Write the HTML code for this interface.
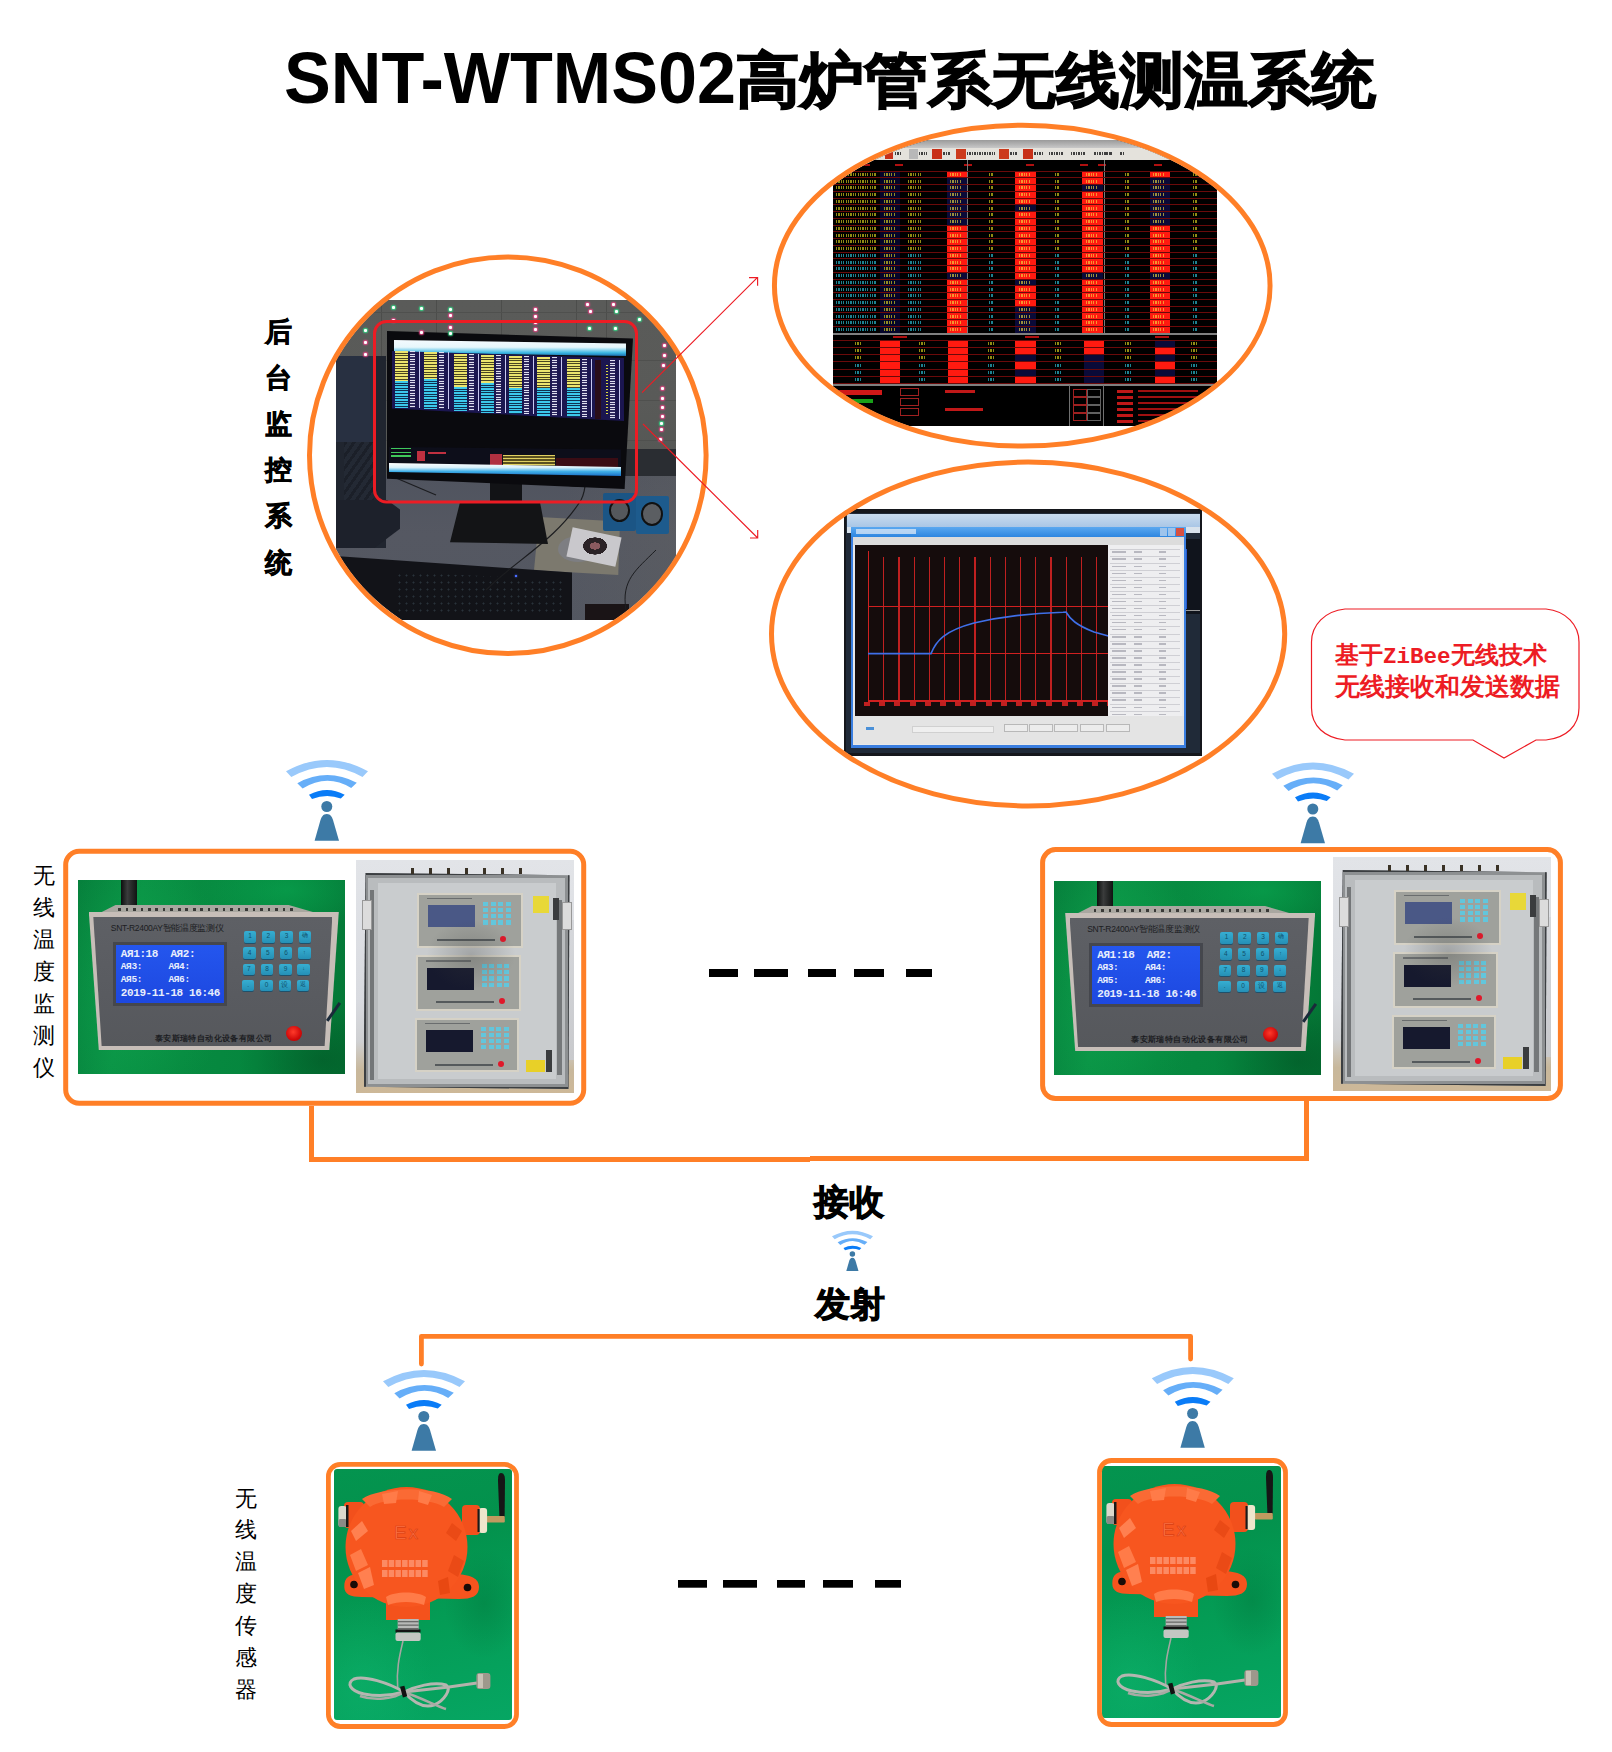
<!DOCTYPE html>
<html><head><meta charset="utf-8"><title>SNT-WTMS02</title>
<style>
html,body{margin:0;padding:0;background:#fff;}
body{width:1612px;height:1752px;position:relative;overflow:hidden;font-family:"Liberation Sans",sans-serif;}
.a{position:absolute;}
.vt{position:absolute;width:30px;text-align:center;}
svg{position:absolute;left:0;top:0;}
</style></head><body>

<div class="a" style="left:284px;top:41px;font-weight:bold;font-size:73px;line-height:1;white-space:nowrap;transform-origin:0 0;transform:scaleX(0.961)">SNT-WTMS02</div>
<div class="a" style="left:736px;top:50.2px;font-weight:bold;font-size:64px;line-height:1;white-space:nowrap;-webkit-text-stroke:1.6px #000;transform-origin:0 0;transform:scaleY(0.94)">高炉管系无线测温系统</div>
<div class="a" style="left:265px;top:318.5px;font-size:27px;line-height:1;font-weight:bold;-webkit-text-stroke:.7px #000;">后</div><div class="a" style="left:265px;top:364.7px;font-size:27px;line-height:1;font-weight:bold;-webkit-text-stroke:.7px #000;">台</div><div class="a" style="left:265px;top:410.9px;font-size:27px;line-height:1;font-weight:bold;-webkit-text-stroke:.7px #000;">监</div><div class="a" style="left:265px;top:457.1px;font-size:27px;line-height:1;font-weight:bold;-webkit-text-stroke:.7px #000;">控</div><div class="a" style="left:265px;top:503.3px;font-size:27px;line-height:1;font-weight:bold;-webkit-text-stroke:.7px #000;">系</div><div class="a" style="left:265px;top:549.5px;font-size:27px;line-height:1;font-weight:bold;-webkit-text-stroke:.7px #000;">统</div>
<div class="a" style="left:33px;top:864.5px;font-size:22px;line-height:1;">无</div><div class="a" style="left:33px;top:896.6px;font-size:22px;line-height:1;">线</div><div class="a" style="left:33px;top:928.7px;font-size:22px;line-height:1;">温</div><div class="a" style="left:33px;top:960.8px;font-size:22px;line-height:1;">度</div><div class="a" style="left:33px;top:992.9px;font-size:22px;line-height:1;">监</div><div class="a" style="left:33px;top:1025.0px;font-size:22px;line-height:1;">测</div><div class="a" style="left:33px;top:1057.1px;font-size:22px;line-height:1;">仪</div>
<div class="a" style="left:235px;top:1487.5px;font-size:22px;line-height:1;">无</div><div class="a" style="left:235px;top:1519.4px;font-size:22px;line-height:1;">线</div><div class="a" style="left:235px;top:1551.3px;font-size:22px;line-height:1;">温</div><div class="a" style="left:235px;top:1583.2px;font-size:22px;line-height:1;">度</div><div class="a" style="left:235px;top:1615.1px;font-size:22px;line-height:1;">传</div><div class="a" style="left:235px;top:1647.0px;font-size:22px;line-height:1;">感</div><div class="a" style="left:235px;top:1678.9px;font-size:22px;line-height:1;">器</div>
<div class="a" style="left:311.8px;top:259.2px;width:392px;height:392px;border-radius:50%;overflow:hidden">
<div class="a" id="p1" style="left:24.19999999999999px;top:40.80000000000001px;width:340px;height:320px;overflow:hidden;background:#5c5f63">
<div class="a" style="left:0;top:0;width:340px;height:200px;background:linear-gradient(180deg,#5a5b59 0%,#595a58 50%,#535552 100%)"></div><div class="a" style="left:45px;top:0;width:1px;height:150px;background:#4c4d4b"></div><div class="a" style="left:100px;top:0;width:1px;height:150px;background:#4c4d4b"></div><div class="a" style="left:165px;top:0;width:1px;height:150px;background:#4c4d4b"></div><div class="a" style="left:240px;top:0;width:1px;height:150px;background:#4c4d4b"></div><div class="a" style="left:270px;top:0;width:1px;height:150px;background:#4c4d4b"></div><div class="a" style="left:0;top:12px;width:340px;height:1px;background:#4f504e"></div><div class="a" style="left:0;top:60px;width:340px;height:1px;background:#4f504e"></div><div class="a" style="left:0;top:100px;width:340px;height:1px;background:#4f504e"></div><div class="a" style="left:0;top:140px;width:340px;height:1px;background:#4f504e"></div><div class="a" style="left:285px;top:149px;width:55px;height:27px;background:#2a2d32"></div><div class="a" style="left:0;top:176px;width:340px;height:144px;background:linear-gradient(180deg,#50545f 0%,#555862 40%,#535761 100%)"></div><div class="a" style="left:230px;top:176px;width:110px;height:144px;background:linear-gradient(90deg,rgba(100,100,98,0),rgba(100,100,98,.3))"></div><div class="a" style="left:0;top:56px;width:50px;height:192px;background:#20252f"></div><div class="a" style="left:0;top:56px;width:37px;height:86px;background:#283041"></div><div class="a" style="left:8px;top:142px;width:30px;height:90px;background:repeating-linear-gradient(125deg,#1a1e27 0 3px,#242a35 3px 7px);opacity:.8"></div><div class="a" style="left:0;top:200px;width:64px;height:48px;background:#1d212b;clip-path:polygon(0 0,80% 0,100% 20%,100% 60%,60% 100%,0 100%)"></div><div class="a" style="left:198px;top:217px;width:86px;height:58px;background:#7c796e;clip-path:polygon(6% 0,100% 8%,98% 100%,0 92%)"></div><div class="a" style="left:222px;top:236px;width:40px;height:26px;border-radius:50%;background:#7d7e82"></div><div class="a" style="left:233px;top:232px;width:50px;height:30px;background:#c9c8cc;transform:rotate(12deg)"></div><div class="a" style="left:245px;top:236px;width:28px;height:20px;border-radius:50%;background:radial-gradient(ellipse,#8a5a60 0 25%,#2a2226 26% 60%,#c9c8cc 61%)"></div><div class="a" style="left:0;top:256px;width:236px;height:64px;background:#121318;clip-path:polygon(0 0,100% 26%,100% 100%,0 100%)"></div><div class="a" style="left:60px;top:272px;width:170px;height:44px;background:radial-gradient(circle,rgba(70,90,100,.45) 0 0.8px,transparent 1.2px) 0 0/7px 7px;clip-path:polygon(0 0,100% 18%,100% 100%,0 100%)"></div><div class="a" style="left:179px;top:275px;width:2px;height:2px;background:#4a6cff;box-shadow:0 0 2px #4a6cff"></div><div class="a" style="left:249px;top:304px;width:44px;height:16px;background:#1a1416"></div><div class="a" style="left:267px;top:193px;width:33px;height:38px;background:#1b5585;border-radius:2px"></div><div class="a" style="left:300px;top:196px;width:33px;height:38px;background:#1d5b8d;border-radius:2px"></div><div class="a" style="left:273px;top:199px;width:17px;height:19px;border-radius:50%;background:#55585c;border:2px solid #111"></div><div class="a" style="left:305px;top:202px;width:18px;height:20px;border-radius:50%;background:#5b5e62;border:2.5px solid #111"></div><svg class="a" style="left:0;top:0" width="340" height="320"><path d="M150,290 C180,260 220,240 245,200 C250,190 250,180 248,170" stroke="#1c1d20" stroke-width="1.2" fill="none"/><path d="M320,250 C300,270 285,280 290,310" stroke="#1c1d20" stroke-width="1" fill="none"/><path d="M60,178 L100,195" stroke="#1c1d20" stroke-width="1.2" fill="none"/><path d="M220,182 C240,190 260,186 285,180" stroke="#1c1d20" stroke-width="1" fill="none"/></svg><div class="a" style="left:154px;top:182px;width:32px;height:26px;background:#121316"></div><div class="a" style="left:114px;top:203px;width:98px;height:41px;background:#131416;clip-path:polygon(10% 0,92% 0,100% 100%,0 96%)"></div><div class="a" style="left:51px;top:31px;width:246px;height:158px;background:#0a0a0e;clip-path:polygon(0 0,100% 4.7%,96.6% 100%,0 93.5%)"></div><div class="a" style="left:58px;top:40px;width:232px;height:16px;background:linear-gradient(180deg,#f4fafe 0%,#e6f6fb 45%,#39b6e2 80%,#1d6fb0 100%);clip-path:polygon(0 0,100% 22%,100% 100%,0 78%)"></div><div class="a" style="left:56px;top:51px;width:232px;height:70px;background:#1b1650;clip-path:polygon(0 0,100% 10%,100% 100%,0 82%)"></div><div class="a" style="left:59px;top:51.0px;width:13px;height:30px;background:repeating-linear-gradient(180deg,#ece46e 0 1.6px,#4a4520 1.6px 2.6px)"></div><div class="a" style="left:59px;top:81.0px;width:13px;height:27.0px;background:repeating-linear-gradient(180deg,#3cc8ec 0 1.6px,#0e3050 1.6px 2.6px)"></div><div class="a" style="left:74px;top:51.0px;width:5px;height:57.0px;background:repeating-linear-gradient(180deg,#e0e0f0 0 1px,#302a60 1px 2.6px)"></div><div class="a" style="left:83px;top:51.0px;width:1.2px;height:57.0px;background:#c8c8f0"></div><div class="a" style="left:88px;top:52.3px;width:13px;height:27px;background:repeating-linear-gradient(180deg,#ece46e 0 1.6px,#4a4520 1.6px 2.6px)"></div><div class="a" style="left:88px;top:79.3px;width:13px;height:30.2px;background:repeating-linear-gradient(180deg,#3cc8ec 0 1.6px,#0e3050 1.6px 2.6px)"></div><div class="a" style="left:103px;top:52.3px;width:5px;height:57.2px;background:repeating-linear-gradient(180deg,#e0e0f0 0 1px,#302a60 1px 2.6px)"></div><div class="a" style="left:112px;top:52.3px;width:1.2px;height:57.2px;background:#c8c8f0"></div><div class="a" style="left:118px;top:53.6px;width:13px;height:33px;background:repeating-linear-gradient(180deg,#ece46e 0 1.6px,#4a4520 1.6px 2.6px)"></div><div class="a" style="left:118px;top:86.6px;width:13px;height:24.5px;background:repeating-linear-gradient(180deg,#3cc8ec 0 1.6px,#0e3050 1.6px 2.6px)"></div><div class="a" style="left:133px;top:53.6px;width:5px;height:57.5px;background:repeating-linear-gradient(180deg,#e0e0f0 0 1px,#302a60 1px 2.6px)"></div><div class="a" style="left:142px;top:53.6px;width:1.2px;height:57.5px;background:#c8c8f0"></div><div class="a" style="left:145px;top:54.9px;width:13px;height:28px;background:repeating-linear-gradient(180deg,#ece46e 0 1.6px,#4a4520 1.6px 2.6px)"></div><div class="a" style="left:145px;top:82.9px;width:13px;height:29.8px;background:repeating-linear-gradient(180deg,#3cc8ec 0 1.6px,#0e3050 1.6px 2.6px)"></div><div class="a" style="left:160px;top:54.9px;width:5px;height:57.8px;background:repeating-linear-gradient(180deg,#e0e0f0 0 1px,#302a60 1px 2.6px)"></div><div class="a" style="left:169px;top:54.9px;width:1.2px;height:57.8px;background:#c8c8f0"></div><div class="a" style="left:173px;top:56.2px;width:13px;height:32px;background:repeating-linear-gradient(180deg,#ece46e 0 1.6px,#4a4520 1.6px 2.6px)"></div><div class="a" style="left:173px;top:88.2px;width:13px;height:26.0px;background:repeating-linear-gradient(180deg,#3cc8ec 0 1.6px,#0e3050 1.6px 2.6px)"></div><div class="a" style="left:188px;top:56.2px;width:5px;height:58.0px;background:repeating-linear-gradient(180deg,#e0e0f0 0 1px,#302a60 1px 2.6px)"></div><div class="a" style="left:197px;top:56.2px;width:1.2px;height:58.0px;background:#c8c8f0"></div><div class="a" style="left:201px;top:57.5px;width:13px;height:31px;background:repeating-linear-gradient(180deg,#ece46e 0 1.6px,#4a4520 1.6px 2.6px)"></div><div class="a" style="left:201px;top:88.5px;width:13px;height:27.2px;background:repeating-linear-gradient(180deg,#3cc8ec 0 1.6px,#0e3050 1.6px 2.6px)"></div><div class="a" style="left:216px;top:57.5px;width:5px;height:58.2px;background:repeating-linear-gradient(180deg,#e0e0f0 0 1px,#302a60 1px 2.6px)"></div><div class="a" style="left:225px;top:57.5px;width:1.2px;height:58.2px;background:#c8c8f0"></div><div class="a" style="left:231px;top:58.8px;width:13px;height:29px;background:repeating-linear-gradient(180deg,#ece46e 0 1.6px,#4a4520 1.6px 2.6px)"></div><div class="a" style="left:231px;top:87.8px;width:13px;height:29.5px;background:repeating-linear-gradient(180deg,#3cc8ec 0 1.6px,#0e3050 1.6px 2.6px)"></div><div class="a" style="left:246px;top:58.8px;width:5px;height:58.5px;background:repeating-linear-gradient(180deg,#e0e0f0 0 1px,#302a60 1px 2.6px)"></div><div class="a" style="left:255px;top:58.8px;width:1.2px;height:58.5px;background:#c8c8f0"></div><div class="a" style="left:259px;top:60.1px;width:6px;height:58.7px;background:#2a0e1a"></div><div class="a" style="left:270px;top:65.1px;width:2px;height:48.7px;background:repeating-linear-gradient(180deg,#d8d840 0 1px,transparent 1px 3px)"></div><div class="a" style="left:274px;top:60.1px;width:5px;height:58.7px;background:repeating-linear-gradient(180deg,#e0e0f0 0 1px,#302a60 1px 2.6px)"></div><div class="a" style="left:283px;top:60.1px;width:1.2px;height:58.7px;background:#c8c8f0"></div><div class="a" style="left:53px;top:147px;width:232px;height:22px;background:#0d0e1a;clip-path:polygon(0 0,100% 12%,100% 100%,0 88%)"></div><div class="a" style="left:55px;top:148px;width:20px;height:11px;background:repeating-linear-gradient(180deg,#40c85a 0 1.4px,#0c0d18 1.4px 3.6px)"></div><div class="a" style="left:81px;top:151px;width:8px;height:10px;background:#c03040"></div><div class="a" style="left:92px;top:152px;width:18px;height:2px;background:#c03040"></div><div class="a" style="left:154px;top:154px;width:12px;height:13px;background:#b03040"></div><div class="a" style="left:167px;top:155px;width:52px;height:13px;background:repeating-linear-gradient(180deg,#e0d060 0 1.5px,#5a5020 1.5px 3px)"></div><div class="a" style="left:220px;top:158px;width:62px;height:10px;background:#3a0c14"></div><div class="a" style="left:53px;top:163px;width:232px;height:13px;background:linear-gradient(180deg,#ffffff 0%,#d8f0fa 35%,#40b0e8 65%,#1a70c8 100%);clip-path:polygon(0 0,100% 30%,100% 100%,0 70%)"></div><div class="a" style="left:56px;top:6px;width:3px;height:3px;border-radius:1px;background:#fff;box-shadow:0 0 1.5px 1px #33dd88"></div><div class="a" style="left:84px;top:7px;width:3px;height:3px;border-radius:1px;background:#fff;box-shadow:0 0 1.5px 1px #33dd88"></div><div class="a" style="left:113px;top:8px;width:3px;height:3px;border-radius:1px;background:#fff;box-shadow:0 0 1.5px 1px #33dd88"></div><div class="a" style="left:113px;top:14px;width:3px;height:3px;border-radius:1px;background:#fff;box-shadow:0 0 1.5px 1px #ee4488"></div><div class="a" style="left:113px;top:26px;width:3px;height:3px;border-radius:1px;background:#fff;box-shadow:0 0 1.5px 1px #ee4488"></div><div class="a" style="left:113px;top:32px;width:3px;height:3px;border-radius:1px;background:#fff;box-shadow:0 0 1.5px 1px #33dd88"></div><div class="a" style="left:56px;top:19px;width:3px;height:3px;border-radius:1px;background:#fff;box-shadow:0 0 1.5px 1px #ee4488"></div><div class="a" style="left:84px;top:31px;width:3px;height:3px;border-radius:1px;background:#fff;box-shadow:0 0 1.5px 1px #ee4488"></div><div class="a" style="left:28px;top:29px;width:3px;height:3px;border-radius:1px;background:#fff;box-shadow:0 0 1.5px 1px #33dd88"></div><div class="a" style="left:28px;top:41px;width:3px;height:3px;border-radius:1px;background:#fff;box-shadow:0 0 1.5px 1px #ee4488"></div><div class="a" style="left:28px;top:53px;width:3px;height:3px;border-radius:1px;background:#fff;box-shadow:0 0 1.5px 1px #ee4488"></div><div class="a" style="left:250px;top:3px;width:3px;height:3px;border-radius:1px;background:#fff;box-shadow:0 0 1.5px 1px #ee4488"></div><div class="a" style="left:253px;top:10px;width:3px;height:3px;border-radius:1px;background:#fff;box-shadow:0 0 1.5px 1px #ee4488"></div><div class="a" style="left:276px;top:3px;width:3px;height:3px;border-radius:1px;background:#fff;box-shadow:0 0 1.5px 1px #ee4488"></div><div class="a" style="left:279px;top:10px;width:3px;height:3px;border-radius:1px;background:#fff;box-shadow:0 0 1.5px 1px #33dd88"></div><div class="a" style="left:252px;top:27px;width:3px;height:3px;border-radius:1px;background:#fff;box-shadow:0 0 1.5px 1px #33dd88"></div><div class="a" style="left:278px;top:27px;width:3px;height:3px;border-radius:1px;background:#fff;box-shadow:0 0 1.5px 1px #33dd88"></div><div class="a" style="left:302px;top:18px;width:3px;height:3px;border-radius:1px;background:#fff;box-shadow:0 0 1.5px 1px #33dd88"></div><div class="a" style="left:198px;top:8px;width:3px;height:3px;border-radius:1px;background:#fff;box-shadow:0 0 1.5px 1px #ee4488"></div><div class="a" style="left:198px;top:15px;width:3px;height:3px;border-radius:1px;background:#fff;box-shadow:0 0 1.5px 1px #ee4488"></div><div class="a" style="left:198px;top:21px;width:3px;height:3px;border-radius:1px;background:#fff;box-shadow:0 0 1.5px 1px #ee4488"></div><div class="a" style="left:198px;top:28px;width:3px;height:3px;border-radius:1px;background:#fff;box-shadow:0 0 1.5px 1px #ee4488"></div><div class="a" style="left:327px;top:44px;width:3px;height:3px;border-radius:1px;background:#fff;box-shadow:0 0 1.5px 1px #ee4488"></div><div class="a" style="left:327px;top:54px;width:3px;height:3px;border-radius:1px;background:#fff;box-shadow:0 0 1.5px 1px #ee4488"></div><div class="a" style="left:326px;top:64px;width:3px;height:3px;border-radius:1px;background:#fff;box-shadow:0 0 1.5px 1px #ee4488"></div><div class="a" style="left:325px;top:87px;width:3px;height:3px;border-radius:1px;background:#fff;box-shadow:0 0 1.5px 1px #ee4488"></div><div class="a" style="left:325px;top:97px;width:3px;height:3px;border-radius:1px;background:#fff;box-shadow:0 0 1.5px 1px #ee4488"></div><div class="a" style="left:325px;top:106px;width:3px;height:3px;border-radius:1px;background:#fff;box-shadow:0 0 1.5px 1px #ee4488"></div><div class="a" style="left:325px;top:115px;width:3px;height:3px;border-radius:1px;background:#fff;box-shadow:0 0 1.5px 1px #ee4488"></div><div class="a" style="left:324px;top:122px;width:3px;height:3px;border-radius:1px;background:#fff;box-shadow:0 0 1.5px 1px #33dd88"></div><div class="a" style="left:324px;top:128px;width:3px;height:3px;border-radius:1px;background:#fff;box-shadow:0 0 1.5px 1px #ee4488"></div><div class="a" style="left:323px;top:138px;width:3px;height:3px;border-radius:1px;background:#fff;box-shadow:0 0 1.5px 1px #ee4488"></div>
</div></div>
<div class="a" style="left:776.75px;top:127.5px;width:491.0px;height:316.4px;border-radius:50%;overflow:hidden">
<div class="a" style="left:56.25px;top:12.50px;width:384px;height:286px;overflow:hidden;background:#000">
<div class="a" style="left:0;top:0;width:384px;height:8px;background:linear-gradient(180deg,#9a9a9a,#c8c8c8)"></div>
<div class="a" style="left:0;top:8px;width:384px;height:12px;background:#e4e2dc"></div>
<div class="a" style="left:51.6px;top:8.5px;width:8.5px;height:10px;background:#c83018"></div>
<div class="a" style="left:75.8px;top:8.5px;width:9px;height:10px;background:#b8b8b8"></div>
<div class="a" style="left:99px;top:8.5px;width:10px;height:10px;background:#c83018"></div>
<div class="a" style="left:123px;top:8.5px;width:10px;height:10px;background:#cc3a1c"></div>
<div class="a" style="left:166px;top:8.5px;width:9.7px;height:10px;background:#cc3a1c"></div>
<div class="a" style="left:190px;top:8.5px;width:10px;height:10px;background:#c83018"></div>
<div class="a" style="left:62px;top:12px;width:7px;height:3px;background:repeating-linear-gradient(90deg,#404040 0 1.5px,transparent 1.5px 2.5px)"></div>
<div class="a" style="left:86px;top:12px;width:8px;height:3px;background:repeating-linear-gradient(90deg,#404040 0 1.5px,transparent 1.5px 2.5px)"></div>
<div class="a" style="left:110px;top:12px;width:8px;height:3px;background:repeating-linear-gradient(90deg,#404040 0 1.5px,transparent 1.5px 2.5px)"></div>
<div class="a" style="left:134px;top:12px;width:28px;height:3px;background:repeating-linear-gradient(90deg,#404040 0 1.5px,transparent 1.5px 2.5px)"></div>
<div class="a" style="left:177px;top:12px;width:7px;height:3px;background:repeating-linear-gradient(90deg,#404040 0 1.5px,transparent 1.5px 2.5px)"></div>
<div class="a" style="left:201px;top:12px;width:10px;height:3px;background:repeating-linear-gradient(90deg,#404040 0 1.5px,transparent 1.5px 2.5px)"></div>
<div class="a" style="left:216px;top:12px;width:15px;height:3px;background:repeating-linear-gradient(90deg,#404040 0 1.5px,transparent 1.5px 2.5px)"></div>
<div class="a" style="left:238px;top:12px;width:14.6px;height:3px;background:repeating-linear-gradient(90deg,#404040 0 1.5px,transparent 1.5px 2.5px)"></div>
<div class="a" style="left:261px;top:12px;width:18px;height:3px;background:repeating-linear-gradient(90deg,#404040 0 1.5px,transparent 1.5px 2.5px)"></div>
<div class="a" style="left:287px;top:12px;width:5px;height:3px;background:repeating-linear-gradient(90deg,#404040 0 1.5px,transparent 1.5px 2.5px)"></div>
<div class="a" style="left:0;top:20px;width:384px;height:11px;background:#000"></div><div class="a" style="left:29px;top:24px;width:8px;height:2px;background:#b01010"></div><div class="a" style="left:62px;top:24px;width:8px;height:2px;background:#b01010"></div><div class="a" style="left:131px;top:24px;width:8px;height:2px;background:#b01010"></div><div class="a" style="left:193px;top:24px;width:8px;height:2px;background:#b01010"></div><div class="a" style="left:247px;top:24px;width:8px;height:2px;background:#b01010"></div><div class="a" style="left:265px;top:24px;width:8px;height:2px;background:#b01010"></div><div class="a" style="left:321px;top:24px;width:8px;height:2px;background:#b01010"></div><div class="a" style="left:133.5px;top:20px;width:1.5px;height:173px;background:#7a7a7a"></div><div class="a" style="left:270.5px;top:20px;width:1.5px;height:173px;background:#7a7a7a"></div><div class="a" style="left:113.5px;top:31.00px;width:20px;height:6.75px;background:#ff1a10"></div><div class="a" style="left:113.5px;top:37.75px;width:20px;height:6.75px;background:#0a0a38"></div><div class="a" style="left:113.5px;top:44.50px;width:20px;height:6.75px;background:#0a0a38"></div><div class="a" style="left:113.5px;top:51.25px;width:20px;height:6.75px;background:#0a0a38"></div><div class="a" style="left:113.5px;top:58.00px;width:20px;height:6.75px;background:#0a0a38"></div><div class="a" style="left:113.5px;top:64.75px;width:20px;height:6.75px;background:#0a0a38"></div><div class="a" style="left:113.5px;top:71.50px;width:20px;height:6.75px;background:#0a0a38"></div><div class="a" style="left:113.5px;top:78.25px;width:20px;height:6.75px;background:#0a0a38"></div><div class="a" style="left:113.5px;top:85.00px;width:20px;height:6.75px;background:#ff1a10"></div><div class="a" style="left:113.5px;top:91.75px;width:20px;height:6.75px;background:#ff1a10"></div><div class="a" style="left:113.5px;top:98.50px;width:20px;height:6.75px;background:#ff1a10"></div><div class="a" style="left:113.5px;top:105.25px;width:20px;height:6.75px;background:#ff1a10"></div><div class="a" style="left:113.5px;top:112.00px;width:20px;height:6.75px;background:#ff1a10"></div><div class="a" style="left:113.5px;top:118.75px;width:20px;height:6.75px;background:#ff1a10"></div><div class="a" style="left:113.5px;top:125.50px;width:20px;height:6.75px;background:#ff1a10"></div><div class="a" style="left:113.5px;top:132.25px;width:20px;height:6.75px;background:#0a0a38"></div><div class="a" style="left:113.5px;top:139.00px;width:20px;height:6.75px;background:#ff1a10"></div><div class="a" style="left:113.5px;top:145.75px;width:20px;height:6.75px;background:#ff1a10"></div><div class="a" style="left:113.5px;top:152.50px;width:20px;height:6.75px;background:#ff1a10"></div><div class="a" style="left:113.5px;top:159.25px;width:20px;height:6.75px;background:#ff1a10"></div><div class="a" style="left:113.5px;top:166.00px;width:20px;height:6.75px;background:#ff1a10"></div><div class="a" style="left:113.5px;top:172.75px;width:20px;height:6.75px;background:#ff1a10"></div><div class="a" style="left:113.5px;top:179.50px;width:20px;height:6.75px;background:#ff1a10"></div><div class="a" style="left:113.5px;top:186.25px;width:20px;height:6.75px;background:#ff1a10"></div><div class="a" style="left:182px;top:31.00px;width:20.5px;height:6.75px;background:#ff1a10"></div><div class="a" style="left:182px;top:37.75px;width:20.5px;height:6.75px;background:#ff1a10"></div><div class="a" style="left:182px;top:44.50px;width:20.5px;height:6.75px;background:#ff1a10"></div><div class="a" style="left:182px;top:51.25px;width:20.5px;height:6.75px;background:#ff1a10"></div><div class="a" style="left:182px;top:58.00px;width:20.5px;height:6.75px;background:#ff1a10"></div><div class="a" style="left:182px;top:64.75px;width:20.5px;height:6.75px;background:#0a0a38"></div><div class="a" style="left:182px;top:71.50px;width:20.5px;height:6.75px;background:#ff1a10"></div><div class="a" style="left:182px;top:78.25px;width:20.5px;height:6.75px;background:#ff1a10"></div><div class="a" style="left:182px;top:85.00px;width:20.5px;height:6.75px;background:#ff1a10"></div><div class="a" style="left:182px;top:91.75px;width:20.5px;height:6.75px;background:#ff1a10"></div><div class="a" style="left:182px;top:98.50px;width:20.5px;height:6.75px;background:#ff1a10"></div><div class="a" style="left:182px;top:105.25px;width:20.5px;height:6.75px;background:#ff1a10"></div><div class="a" style="left:182px;top:112.00px;width:20.5px;height:6.75px;background:#ff1a10"></div><div class="a" style="left:182px;top:118.75px;width:20.5px;height:6.75px;background:#ff1a10"></div><div class="a" style="left:182px;top:125.50px;width:20.5px;height:6.75px;background:#ff1a10"></div><div class="a" style="left:182px;top:132.25px;width:20.5px;height:6.75px;background:#ff1a10"></div><div class="a" style="left:182px;top:139.00px;width:20.5px;height:6.75px;background:#0a0a38"></div><div class="a" style="left:182px;top:145.75px;width:20.5px;height:6.75px;background:#ff1a10"></div><div class="a" style="left:182px;top:152.50px;width:20.5px;height:6.75px;background:#ff1a10"></div><div class="a" style="left:182px;top:159.25px;width:20.5px;height:6.75px;background:#ff1a10"></div><div class="a" style="left:182px;top:166.00px;width:20.5px;height:6.75px;background:#0a0a38"></div><div class="a" style="left:182px;top:172.75px;width:20.5px;height:6.75px;background:#0a0a38"></div><div class="a" style="left:182px;top:179.50px;width:20.5px;height:6.75px;background:#0a0a38"></div><div class="a" style="left:182px;top:186.25px;width:20.5px;height:6.75px;background:#0a0a38"></div><div class="a" style="left:249px;top:31.00px;width:20.5px;height:6.75px;background:#ff1a10"></div><div class="a" style="left:249px;top:37.75px;width:20.5px;height:6.75px;background:#ff1a10"></div><div class="a" style="left:249px;top:44.50px;width:20.5px;height:6.75px;background:#0a0a38"></div><div class="a" style="left:249px;top:51.25px;width:20.5px;height:6.75px;background:#ff1a10"></div><div class="a" style="left:249px;top:58.00px;width:20.5px;height:6.75px;background:#ff1a10"></div><div class="a" style="left:249px;top:64.75px;width:20.5px;height:6.75px;background:#ff1a10"></div><div class="a" style="left:249px;top:71.50px;width:20.5px;height:6.75px;background:#ff1a10"></div><div class="a" style="left:249px;top:78.25px;width:20.5px;height:6.75px;background:#ff1a10"></div><div class="a" style="left:249px;top:85.00px;width:20.5px;height:6.75px;background:#ff1a10"></div><div class="a" style="left:249px;top:91.75px;width:20.5px;height:6.75px;background:#ff1a10"></div><div class="a" style="left:249px;top:98.50px;width:20.5px;height:6.75px;background:#ff1a10"></div><div class="a" style="left:249px;top:105.25px;width:20.5px;height:6.75px;background:#ff1a10"></div><div class="a" style="left:249px;top:112.00px;width:20.5px;height:6.75px;background:#ff1a10"></div><div class="a" style="left:249px;top:118.75px;width:20.5px;height:6.75px;background:#ff1a10"></div><div class="a" style="left:249px;top:125.50px;width:20.5px;height:6.75px;background:#ff1a10"></div><div class="a" style="left:249px;top:132.25px;width:20.5px;height:6.75px;background:#0a0a38"></div><div class="a" style="left:249px;top:139.00px;width:20.5px;height:6.75px;background:#ff1a10"></div><div class="a" style="left:249px;top:145.75px;width:20.5px;height:6.75px;background:#ff1a10"></div><div class="a" style="left:249px;top:152.50px;width:20.5px;height:6.75px;background:#ff1a10"></div><div class="a" style="left:249px;top:159.25px;width:20.5px;height:6.75px;background:#ff1a10"></div><div class="a" style="left:249px;top:166.00px;width:20.5px;height:6.75px;background:#ff1a10"></div><div class="a" style="left:249px;top:172.75px;width:20.5px;height:6.75px;background:#ff1a10"></div><div class="a" style="left:249px;top:179.50px;width:20.5px;height:6.75px;background:#ff1a10"></div><div class="a" style="left:249px;top:186.25px;width:20.5px;height:6.75px;background:#ff1a10"></div><div class="a" style="left:316.5px;top:31.00px;width:20px;height:6.75px;background:#ff1a10"></div><div class="a" style="left:316.5px;top:37.75px;width:20px;height:6.75px;background:#0a0a38"></div><div class="a" style="left:316.5px;top:44.50px;width:20px;height:6.75px;background:#0a0a38"></div><div class="a" style="left:316.5px;top:51.25px;width:20px;height:6.75px;background:#0a0a38"></div><div class="a" style="left:316.5px;top:58.00px;width:20px;height:6.75px;background:#0a0a38"></div><div class="a" style="left:316.5px;top:64.75px;width:20px;height:6.75px;background:#0a0a38"></div><div class="a" style="left:316.5px;top:71.50px;width:20px;height:6.75px;background:#0a0a38"></div><div class="a" style="left:316.5px;top:78.25px;width:20px;height:6.75px;background:#0a0a38"></div><div class="a" style="left:316.5px;top:85.00px;width:20px;height:6.75px;background:#ff1a10"></div><div class="a" style="left:316.5px;top:91.75px;width:20px;height:6.75px;background:#ff1a10"></div><div class="a" style="left:316.5px;top:98.50px;width:20px;height:6.75px;background:#ff1a10"></div><div class="a" style="left:316.5px;top:105.25px;width:20px;height:6.75px;background:#ff1a10"></div><div class="a" style="left:316.5px;top:112.00px;width:20px;height:6.75px;background:#ff1a10"></div><div class="a" style="left:316.5px;top:118.75px;width:20px;height:6.75px;background:#ff1a10"></div><div class="a" style="left:316.5px;top:125.50px;width:20px;height:6.75px;background:#ff1a10"></div><div class="a" style="left:316.5px;top:132.25px;width:20px;height:6.75px;background:#0a0a38"></div><div class="a" style="left:316.5px;top:139.00px;width:20px;height:6.75px;background:#ff1a10"></div><div class="a" style="left:316.5px;top:145.75px;width:20px;height:6.75px;background:#ff1a10"></div><div class="a" style="left:316.5px;top:152.50px;width:20px;height:6.75px;background:#ff1a10"></div><div class="a" style="left:316.5px;top:159.25px;width:20px;height:6.75px;background:#ff1a10"></div><div class="a" style="left:316.5px;top:166.00px;width:20px;height:6.75px;background:#ff1a10"></div><div class="a" style="left:316.5px;top:172.75px;width:20px;height:6.75px;background:#ff1a10"></div><div class="a" style="left:316.5px;top:179.50px;width:20px;height:6.75px;background:#ff1a10"></div><div class="a" style="left:316.5px;top:186.25px;width:20px;height:6.75px;background:#ff1a10"></div><div class="a" style="left:47px;top:31px;width:19.5px;height:162.0px;background:#05052a"></div><div class="a" style="left:3px;top:32.80px;width:40px;height:3px;background:repeating-linear-gradient(90deg,#e8e020 0 1.2px,transparent 1.2px 2.4px);opacity:.62"></div><div class="a" style="left:3px;top:39.55px;width:40px;height:3px;background:repeating-linear-gradient(90deg,#e8e020 0 1.2px,transparent 1.2px 2.4px);opacity:.62"></div><div class="a" style="left:3px;top:46.30px;width:40px;height:3px;background:repeating-linear-gradient(90deg,#e8e020 0 1.2px,transparent 1.2px 2.4px);opacity:.62"></div><div class="a" style="left:3px;top:53.05px;width:40px;height:3px;background:repeating-linear-gradient(90deg,#e8e020 0 1.2px,transparent 1.2px 2.4px);opacity:.62"></div><div class="a" style="left:3px;top:59.80px;width:40px;height:3px;background:repeating-linear-gradient(90deg,#e8e020 0 1.2px,transparent 1.2px 2.4px);opacity:.62"></div><div class="a" style="left:3px;top:66.55px;width:40px;height:3px;background:repeating-linear-gradient(90deg,#e8e020 0 1.2px,transparent 1.2px 2.4px);opacity:.62"></div><div class="a" style="left:3px;top:73.30px;width:40px;height:3px;background:repeating-linear-gradient(90deg,#e8e020 0 1.2px,transparent 1.2px 2.4px);opacity:.62"></div><div class="a" style="left:3px;top:80.05px;width:40px;height:3px;background:repeating-linear-gradient(90deg,#e8e020 0 1.2px,transparent 1.2px 2.4px);opacity:.62"></div><div class="a" style="left:3px;top:86.80px;width:40px;height:3px;background:repeating-linear-gradient(90deg,#e8e020 0 1.2px,transparent 1.2px 2.4px);opacity:.62"></div><div class="a" style="left:3px;top:93.55px;width:40px;height:3px;background:repeating-linear-gradient(90deg,#e8e020 0 1.2px,transparent 1.2px 2.4px);opacity:.62"></div><div class="a" style="left:3px;top:100.30px;width:40px;height:3px;background:repeating-linear-gradient(90deg,#e8e020 0 1.2px,transparent 1.2px 2.4px);opacity:.62"></div><div class="a" style="left:3px;top:107.05px;width:40px;height:3px;background:repeating-linear-gradient(90deg,#e8e020 0 1.2px,transparent 1.2px 2.4px);opacity:.62"></div><div class="a" style="left:3px;top:113.80px;width:40px;height:3px;background:repeating-linear-gradient(90deg,#30d0e8 0 1.2px,transparent 1.2px 2.4px);opacity:.62"></div><div class="a" style="left:3px;top:120.55px;width:40px;height:3px;background:repeating-linear-gradient(90deg,#30d0e8 0 1.2px,transparent 1.2px 2.4px);opacity:.62"></div><div class="a" style="left:3px;top:127.30px;width:40px;height:3px;background:repeating-linear-gradient(90deg,#30d0e8 0 1.2px,transparent 1.2px 2.4px);opacity:.62"></div><div class="a" style="left:3px;top:134.05px;width:40px;height:3px;background:repeating-linear-gradient(90deg,#30d0e8 0 1.2px,transparent 1.2px 2.4px);opacity:.62"></div><div class="a" style="left:3px;top:140.80px;width:40px;height:3px;background:repeating-linear-gradient(90deg,#30d0e8 0 1.2px,transparent 1.2px 2.4px);opacity:.62"></div><div class="a" style="left:3px;top:147.55px;width:40px;height:3px;background:repeating-linear-gradient(90deg,#30d0e8 0 1.2px,transparent 1.2px 2.4px);opacity:.62"></div><div class="a" style="left:3px;top:154.30px;width:40px;height:3px;background:repeating-linear-gradient(90deg,#30d0e8 0 1.2px,transparent 1.2px 2.4px);opacity:.62"></div><div class="a" style="left:3px;top:161.05px;width:40px;height:3px;background:repeating-linear-gradient(90deg,#30d0e8 0 1.2px,transparent 1.2px 2.4px);opacity:.62"></div><div class="a" style="left:3px;top:167.80px;width:40px;height:3px;background:repeating-linear-gradient(90deg,#30d0e8 0 1.2px,transparent 1.2px 2.4px);opacity:.62"></div><div class="a" style="left:3px;top:174.55px;width:40px;height:3px;background:repeating-linear-gradient(90deg,#30d0e8 0 1.2px,transparent 1.2px 2.4px);opacity:.62"></div><div class="a" style="left:3px;top:181.30px;width:40px;height:3px;background:repeating-linear-gradient(90deg,#30d0e8 0 1.2px,transparent 1.2px 2.4px);opacity:.62"></div><div class="a" style="left:3px;top:188.05px;width:40px;height:3px;background:repeating-linear-gradient(90deg,#30d0e8 0 1.2px,transparent 1.2px 2.4px);opacity:.62"></div><div class="a" style="left:51px;top:32.80px;width:12px;height:3px;background:repeating-linear-gradient(90deg,#e8e020 0 1.2px,transparent 1.2px 2.4px);opacity:.62"></div><div class="a" style="left:51px;top:39.55px;width:12px;height:3px;background:repeating-linear-gradient(90deg,#e8e020 0 1.2px,transparent 1.2px 2.4px);opacity:.62"></div><div class="a" style="left:51px;top:46.30px;width:12px;height:3px;background:repeating-linear-gradient(90deg,#e8e020 0 1.2px,transparent 1.2px 2.4px);opacity:.62"></div><div class="a" style="left:51px;top:53.05px;width:12px;height:3px;background:repeating-linear-gradient(90deg,#e8e020 0 1.2px,transparent 1.2px 2.4px);opacity:.62"></div><div class="a" style="left:51px;top:59.80px;width:12px;height:3px;background:repeating-linear-gradient(90deg,#e8e020 0 1.2px,transparent 1.2px 2.4px);opacity:.62"></div><div class="a" style="left:51px;top:66.55px;width:12px;height:3px;background:repeating-linear-gradient(90deg,#e8e020 0 1.2px,transparent 1.2px 2.4px);opacity:.62"></div><div class="a" style="left:51px;top:73.30px;width:12px;height:3px;background:repeating-linear-gradient(90deg,#e8e020 0 1.2px,transparent 1.2px 2.4px);opacity:.62"></div><div class="a" style="left:51px;top:80.05px;width:12px;height:3px;background:repeating-linear-gradient(90deg,#e8e020 0 1.2px,transparent 1.2px 2.4px);opacity:.62"></div><div class="a" style="left:51px;top:86.80px;width:12px;height:3px;background:repeating-linear-gradient(90deg,#e8e020 0 1.2px,transparent 1.2px 2.4px);opacity:.62"></div><div class="a" style="left:51px;top:93.55px;width:12px;height:3px;background:repeating-linear-gradient(90deg,#e8e020 0 1.2px,transparent 1.2px 2.4px);opacity:.62"></div><div class="a" style="left:51px;top:100.30px;width:12px;height:3px;background:repeating-linear-gradient(90deg,#e8e020 0 1.2px,transparent 1.2px 2.4px);opacity:.62"></div><div class="a" style="left:51px;top:107.05px;width:12px;height:3px;background:repeating-linear-gradient(90deg,#e8e020 0 1.2px,transparent 1.2px 2.4px);opacity:.62"></div><div class="a" style="left:51px;top:113.80px;width:12px;height:3px;background:repeating-linear-gradient(90deg,#e8e020 0 1.2px,transparent 1.2px 2.4px);opacity:.62"></div><div class="a" style="left:51px;top:120.55px;width:12px;height:3px;background:repeating-linear-gradient(90deg,#e8e020 0 1.2px,transparent 1.2px 2.4px);opacity:.62"></div><div class="a" style="left:51px;top:127.30px;width:12px;height:3px;background:repeating-linear-gradient(90deg,#e8e020 0 1.2px,transparent 1.2px 2.4px);opacity:.62"></div><div class="a" style="left:51px;top:134.05px;width:12px;height:3px;background:repeating-linear-gradient(90deg,#e8e020 0 1.2px,transparent 1.2px 2.4px);opacity:.62"></div><div class="a" style="left:51px;top:140.80px;width:12px;height:3px;background:repeating-linear-gradient(90deg,#e8e020 0 1.2px,transparent 1.2px 2.4px);opacity:.62"></div><div class="a" style="left:51px;top:147.55px;width:12px;height:3px;background:repeating-linear-gradient(90deg,#e8e020 0 1.2px,transparent 1.2px 2.4px);opacity:.62"></div><div class="a" style="left:51px;top:154.30px;width:12px;height:3px;background:repeating-linear-gradient(90deg,#e8e020 0 1.2px,transparent 1.2px 2.4px);opacity:.62"></div><div class="a" style="left:51px;top:161.05px;width:12px;height:3px;background:repeating-linear-gradient(90deg,#e8e020 0 1.2px,transparent 1.2px 2.4px);opacity:.62"></div><div class="a" style="left:51px;top:167.80px;width:12px;height:3px;background:repeating-linear-gradient(90deg,#e8e020 0 1.2px,transparent 1.2px 2.4px);opacity:.62"></div><div class="a" style="left:51px;top:174.55px;width:12px;height:3px;background:repeating-linear-gradient(90deg,#e8e020 0 1.2px,transparent 1.2px 2.4px);opacity:.62"></div><div class="a" style="left:51px;top:181.30px;width:12px;height:3px;background:repeating-linear-gradient(90deg,#e8e020 0 1.2px,transparent 1.2px 2.4px);opacity:.62"></div><div class="a" style="left:51px;top:188.05px;width:12px;height:3px;background:repeating-linear-gradient(90deg,#e8e020 0 1.2px,transparent 1.2px 2.4px);opacity:.62"></div><div class="a" style="left:75px;top:32.80px;width:14px;height:3px;background:repeating-linear-gradient(90deg,#e8e020 0 1.2px,transparent 1.2px 2.4px);opacity:.62"></div><div class="a" style="left:75px;top:39.55px;width:14px;height:3px;background:repeating-linear-gradient(90deg,#e8e020 0 1.2px,transparent 1.2px 2.4px);opacity:.62"></div><div class="a" style="left:75px;top:46.30px;width:14px;height:3px;background:repeating-linear-gradient(90deg,#e8e020 0 1.2px,transparent 1.2px 2.4px);opacity:.62"></div><div class="a" style="left:75px;top:53.05px;width:14px;height:3px;background:repeating-linear-gradient(90deg,#e8e020 0 1.2px,transparent 1.2px 2.4px);opacity:.62"></div><div class="a" style="left:75px;top:59.80px;width:14px;height:3px;background:repeating-linear-gradient(90deg,#e8e020 0 1.2px,transparent 1.2px 2.4px);opacity:.62"></div><div class="a" style="left:75px;top:66.55px;width:14px;height:3px;background:repeating-linear-gradient(90deg,#e8e020 0 1.2px,transparent 1.2px 2.4px);opacity:.62"></div><div class="a" style="left:75px;top:73.30px;width:14px;height:3px;background:repeating-linear-gradient(90deg,#e8e020 0 1.2px,transparent 1.2px 2.4px);opacity:.62"></div><div class="a" style="left:75px;top:80.05px;width:14px;height:3px;background:repeating-linear-gradient(90deg,#e8e020 0 1.2px,transparent 1.2px 2.4px);opacity:.62"></div><div class="a" style="left:75px;top:86.80px;width:14px;height:3px;background:repeating-linear-gradient(90deg,#e8e020 0 1.2px,transparent 1.2px 2.4px);opacity:.62"></div><div class="a" style="left:75px;top:93.55px;width:14px;height:3px;background:repeating-linear-gradient(90deg,#e8e020 0 1.2px,transparent 1.2px 2.4px);opacity:.62"></div><div class="a" style="left:75px;top:100.30px;width:14px;height:3px;background:repeating-linear-gradient(90deg,#e8e020 0 1.2px,transparent 1.2px 2.4px);opacity:.62"></div><div class="a" style="left:75px;top:107.05px;width:14px;height:3px;background:repeating-linear-gradient(90deg,#e8e020 0 1.2px,transparent 1.2px 2.4px);opacity:.62"></div><div class="a" style="left:75px;top:113.80px;width:14px;height:3px;background:repeating-linear-gradient(90deg,#30d0e8 0 1.2px,transparent 1.2px 2.4px);opacity:.62"></div><div class="a" style="left:75px;top:120.55px;width:14px;height:3px;background:repeating-linear-gradient(90deg,#30d0e8 0 1.2px,transparent 1.2px 2.4px);opacity:.62"></div><div class="a" style="left:75px;top:127.30px;width:14px;height:3px;background:repeating-linear-gradient(90deg,#30d0e8 0 1.2px,transparent 1.2px 2.4px);opacity:.62"></div><div class="a" style="left:75px;top:134.05px;width:14px;height:3px;background:repeating-linear-gradient(90deg,#30d0e8 0 1.2px,transparent 1.2px 2.4px);opacity:.62"></div><div class="a" style="left:75px;top:140.80px;width:14px;height:3px;background:repeating-linear-gradient(90deg,#30d0e8 0 1.2px,transparent 1.2px 2.4px);opacity:.62"></div><div class="a" style="left:75px;top:147.55px;width:14px;height:3px;background:repeating-linear-gradient(90deg,#30d0e8 0 1.2px,transparent 1.2px 2.4px);opacity:.62"></div><div class="a" style="left:75px;top:154.30px;width:14px;height:3px;background:repeating-linear-gradient(90deg,#30d0e8 0 1.2px,transparent 1.2px 2.4px);opacity:.62"></div><div class="a" style="left:75px;top:161.05px;width:14px;height:3px;background:repeating-linear-gradient(90deg,#30d0e8 0 1.2px,transparent 1.2px 2.4px);opacity:.62"></div><div class="a" style="left:75px;top:167.80px;width:14px;height:3px;background:repeating-linear-gradient(90deg,#30d0e8 0 1.2px,transparent 1.2px 2.4px);opacity:.62"></div><div class="a" style="left:75px;top:174.55px;width:14px;height:3px;background:repeating-linear-gradient(90deg,#30d0e8 0 1.2px,transparent 1.2px 2.4px);opacity:.62"></div><div class="a" style="left:75px;top:181.30px;width:14px;height:3px;background:repeating-linear-gradient(90deg,#30d0e8 0 1.2px,transparent 1.2px 2.4px);opacity:.62"></div><div class="a" style="left:75px;top:188.05px;width:14px;height:3px;background:repeating-linear-gradient(90deg,#30d0e8 0 1.2px,transparent 1.2px 2.4px);opacity:.62"></div><div class="a" style="left:117px;top:32.80px;width:12px;height:3px;background:repeating-linear-gradient(90deg,#f0e040 0 1.2px,transparent 1.2px 2.4px);opacity:.62"></div><div class="a" style="left:117px;top:39.55px;width:12px;height:3px;background:repeating-linear-gradient(90deg,#f0e040 0 1.2px,transparent 1.2px 2.4px);opacity:.62"></div><div class="a" style="left:117px;top:46.30px;width:12px;height:3px;background:repeating-linear-gradient(90deg,#f0e040 0 1.2px,transparent 1.2px 2.4px);opacity:.62"></div><div class="a" style="left:117px;top:53.05px;width:12px;height:3px;background:repeating-linear-gradient(90deg,#f0e040 0 1.2px,transparent 1.2px 2.4px);opacity:.62"></div><div class="a" style="left:117px;top:59.80px;width:12px;height:3px;background:repeating-linear-gradient(90deg,#f0e040 0 1.2px,transparent 1.2px 2.4px);opacity:.62"></div><div class="a" style="left:117px;top:66.55px;width:12px;height:3px;background:repeating-linear-gradient(90deg,#f0e040 0 1.2px,transparent 1.2px 2.4px);opacity:.62"></div><div class="a" style="left:117px;top:73.30px;width:12px;height:3px;background:repeating-linear-gradient(90deg,#f0e040 0 1.2px,transparent 1.2px 2.4px);opacity:.62"></div><div class="a" style="left:117px;top:80.05px;width:12px;height:3px;background:repeating-linear-gradient(90deg,#f0e040 0 1.2px,transparent 1.2px 2.4px);opacity:.62"></div><div class="a" style="left:117px;top:86.80px;width:12px;height:3px;background:repeating-linear-gradient(90deg,#f0e040 0 1.2px,transparent 1.2px 2.4px);opacity:.62"></div><div class="a" style="left:117px;top:93.55px;width:12px;height:3px;background:repeating-linear-gradient(90deg,#f0e040 0 1.2px,transparent 1.2px 2.4px);opacity:.62"></div><div class="a" style="left:117px;top:100.30px;width:12px;height:3px;background:repeating-linear-gradient(90deg,#f0e040 0 1.2px,transparent 1.2px 2.4px);opacity:.62"></div><div class="a" style="left:117px;top:107.05px;width:12px;height:3px;background:repeating-linear-gradient(90deg,#f0e040 0 1.2px,transparent 1.2px 2.4px);opacity:.62"></div><div class="a" style="left:117px;top:113.80px;width:12px;height:3px;background:repeating-linear-gradient(90deg,#f0e040 0 1.2px,transparent 1.2px 2.4px);opacity:.62"></div><div class="a" style="left:117px;top:120.55px;width:12px;height:3px;background:repeating-linear-gradient(90deg,#f0e040 0 1.2px,transparent 1.2px 2.4px);opacity:.62"></div><div class="a" style="left:117px;top:127.30px;width:12px;height:3px;background:repeating-linear-gradient(90deg,#f0e040 0 1.2px,transparent 1.2px 2.4px);opacity:.62"></div><div class="a" style="left:117px;top:134.05px;width:12px;height:3px;background:repeating-linear-gradient(90deg,#f0e040 0 1.2px,transparent 1.2px 2.4px);opacity:.62"></div><div class="a" style="left:117px;top:140.80px;width:12px;height:3px;background:repeating-linear-gradient(90deg,#f0e040 0 1.2px,transparent 1.2px 2.4px);opacity:.62"></div><div class="a" style="left:117px;top:147.55px;width:12px;height:3px;background:repeating-linear-gradient(90deg,#f0e040 0 1.2px,transparent 1.2px 2.4px);opacity:.62"></div><div class="a" style="left:117px;top:154.30px;width:12px;height:3px;background:repeating-linear-gradient(90deg,#f0e040 0 1.2px,transparent 1.2px 2.4px);opacity:.62"></div><div class="a" style="left:117px;top:161.05px;width:12px;height:3px;background:repeating-linear-gradient(90deg,#f0e040 0 1.2px,transparent 1.2px 2.4px);opacity:.62"></div><div class="a" style="left:117px;top:167.80px;width:12px;height:3px;background:repeating-linear-gradient(90deg,#f0e040 0 1.2px,transparent 1.2px 2.4px);opacity:.62"></div><div class="a" style="left:117px;top:174.55px;width:12px;height:3px;background:repeating-linear-gradient(90deg,#f0e040 0 1.2px,transparent 1.2px 2.4px);opacity:.62"></div><div class="a" style="left:117px;top:181.30px;width:12px;height:3px;background:repeating-linear-gradient(90deg,#f0e040 0 1.2px,transparent 1.2px 2.4px);opacity:.62"></div><div class="a" style="left:117px;top:188.05px;width:12px;height:3px;background:repeating-linear-gradient(90deg,#f0e040 0 1.2px,transparent 1.2px 2.4px);opacity:.62"></div><div class="a" style="left:156px;top:32.80px;width:4px;height:3px;background:repeating-linear-gradient(90deg,#e8e020 0 1.2px,transparent 1.2px 2.4px);opacity:.62"></div><div class="a" style="left:156px;top:39.55px;width:4px;height:3px;background:repeating-linear-gradient(90deg,#e8e020 0 1.2px,transparent 1.2px 2.4px);opacity:.62"></div><div class="a" style="left:156px;top:46.30px;width:4px;height:3px;background:repeating-linear-gradient(90deg,#e8e020 0 1.2px,transparent 1.2px 2.4px);opacity:.62"></div><div class="a" style="left:156px;top:53.05px;width:4px;height:3px;background:repeating-linear-gradient(90deg,#e8e020 0 1.2px,transparent 1.2px 2.4px);opacity:.62"></div><div class="a" style="left:156px;top:59.80px;width:4px;height:3px;background:repeating-linear-gradient(90deg,#e8e020 0 1.2px,transparent 1.2px 2.4px);opacity:.62"></div><div class="a" style="left:156px;top:66.55px;width:4px;height:3px;background:repeating-linear-gradient(90deg,#e8e020 0 1.2px,transparent 1.2px 2.4px);opacity:.62"></div><div class="a" style="left:156px;top:73.30px;width:4px;height:3px;background:repeating-linear-gradient(90deg,#e8e020 0 1.2px,transparent 1.2px 2.4px);opacity:.62"></div><div class="a" style="left:156px;top:80.05px;width:4px;height:3px;background:repeating-linear-gradient(90deg,#e8e020 0 1.2px,transparent 1.2px 2.4px);opacity:.62"></div><div class="a" style="left:156px;top:86.80px;width:4px;height:3px;background:repeating-linear-gradient(90deg,#e8e020 0 1.2px,transparent 1.2px 2.4px);opacity:.62"></div><div class="a" style="left:156px;top:93.55px;width:4px;height:3px;background:repeating-linear-gradient(90deg,#e8e020 0 1.2px,transparent 1.2px 2.4px);opacity:.62"></div><div class="a" style="left:156px;top:100.30px;width:4px;height:3px;background:repeating-linear-gradient(90deg,#e8e020 0 1.2px,transparent 1.2px 2.4px);opacity:.62"></div><div class="a" style="left:156px;top:107.05px;width:4px;height:3px;background:repeating-linear-gradient(90deg,#e8e020 0 1.2px,transparent 1.2px 2.4px);opacity:.62"></div><div class="a" style="left:156px;top:113.80px;width:4px;height:3px;background:repeating-linear-gradient(90deg,#30d0e8 0 1.2px,transparent 1.2px 2.4px);opacity:.62"></div><div class="a" style="left:156px;top:120.55px;width:4px;height:3px;background:repeating-linear-gradient(90deg,#30d0e8 0 1.2px,transparent 1.2px 2.4px);opacity:.62"></div><div class="a" style="left:156px;top:127.30px;width:4px;height:3px;background:repeating-linear-gradient(90deg,#30d0e8 0 1.2px,transparent 1.2px 2.4px);opacity:.62"></div><div class="a" style="left:156px;top:134.05px;width:4px;height:3px;background:repeating-linear-gradient(90deg,#30d0e8 0 1.2px,transparent 1.2px 2.4px);opacity:.62"></div><div class="a" style="left:156px;top:140.80px;width:4px;height:3px;background:repeating-linear-gradient(90deg,#30d0e8 0 1.2px,transparent 1.2px 2.4px);opacity:.62"></div><div class="a" style="left:156px;top:147.55px;width:4px;height:3px;background:repeating-linear-gradient(90deg,#30d0e8 0 1.2px,transparent 1.2px 2.4px);opacity:.62"></div><div class="a" style="left:156px;top:154.30px;width:4px;height:3px;background:repeating-linear-gradient(90deg,#30d0e8 0 1.2px,transparent 1.2px 2.4px);opacity:.62"></div><div class="a" style="left:156px;top:161.05px;width:4px;height:3px;background:repeating-linear-gradient(90deg,#30d0e8 0 1.2px,transparent 1.2px 2.4px);opacity:.62"></div><div class="a" style="left:156px;top:167.80px;width:4px;height:3px;background:repeating-linear-gradient(90deg,#30d0e8 0 1.2px,transparent 1.2px 2.4px);opacity:.62"></div><div class="a" style="left:156px;top:174.55px;width:4px;height:3px;background:repeating-linear-gradient(90deg,#30d0e8 0 1.2px,transparent 1.2px 2.4px);opacity:.62"></div><div class="a" style="left:156px;top:181.30px;width:4px;height:3px;background:repeating-linear-gradient(90deg,#30d0e8 0 1.2px,transparent 1.2px 2.4px);opacity:.62"></div><div class="a" style="left:156px;top:188.05px;width:4px;height:3px;background:repeating-linear-gradient(90deg,#30d0e8 0 1.2px,transparent 1.2px 2.4px);opacity:.62"></div><div class="a" style="left:186px;top:32.80px;width:12px;height:3px;background:repeating-linear-gradient(90deg,#f0e040 0 1.2px,transparent 1.2px 2.4px);opacity:.62"></div><div class="a" style="left:186px;top:39.55px;width:12px;height:3px;background:repeating-linear-gradient(90deg,#f0e040 0 1.2px,transparent 1.2px 2.4px);opacity:.62"></div><div class="a" style="left:186px;top:46.30px;width:12px;height:3px;background:repeating-linear-gradient(90deg,#f0e040 0 1.2px,transparent 1.2px 2.4px);opacity:.62"></div><div class="a" style="left:186px;top:53.05px;width:12px;height:3px;background:repeating-linear-gradient(90deg,#f0e040 0 1.2px,transparent 1.2px 2.4px);opacity:.62"></div><div class="a" style="left:186px;top:59.80px;width:12px;height:3px;background:repeating-linear-gradient(90deg,#f0e040 0 1.2px,transparent 1.2px 2.4px);opacity:.62"></div><div class="a" style="left:186px;top:66.55px;width:12px;height:3px;background:repeating-linear-gradient(90deg,#f0e040 0 1.2px,transparent 1.2px 2.4px);opacity:.62"></div><div class="a" style="left:186px;top:73.30px;width:12px;height:3px;background:repeating-linear-gradient(90deg,#f0e040 0 1.2px,transparent 1.2px 2.4px);opacity:.62"></div><div class="a" style="left:186px;top:80.05px;width:12px;height:3px;background:repeating-linear-gradient(90deg,#f0e040 0 1.2px,transparent 1.2px 2.4px);opacity:.62"></div><div class="a" style="left:186px;top:86.80px;width:12px;height:3px;background:repeating-linear-gradient(90deg,#f0e040 0 1.2px,transparent 1.2px 2.4px);opacity:.62"></div><div class="a" style="left:186px;top:93.55px;width:12px;height:3px;background:repeating-linear-gradient(90deg,#f0e040 0 1.2px,transparent 1.2px 2.4px);opacity:.62"></div><div class="a" style="left:186px;top:100.30px;width:12px;height:3px;background:repeating-linear-gradient(90deg,#f0e040 0 1.2px,transparent 1.2px 2.4px);opacity:.62"></div><div class="a" style="left:186px;top:107.05px;width:12px;height:3px;background:repeating-linear-gradient(90deg,#f0e040 0 1.2px,transparent 1.2px 2.4px);opacity:.62"></div><div class="a" style="left:186px;top:113.80px;width:12px;height:3px;background:repeating-linear-gradient(90deg,#f0e040 0 1.2px,transparent 1.2px 2.4px);opacity:.62"></div><div class="a" style="left:186px;top:120.55px;width:12px;height:3px;background:repeating-linear-gradient(90deg,#f0e040 0 1.2px,transparent 1.2px 2.4px);opacity:.62"></div><div class="a" style="left:186px;top:127.30px;width:12px;height:3px;background:repeating-linear-gradient(90deg,#f0e040 0 1.2px,transparent 1.2px 2.4px);opacity:.62"></div><div class="a" style="left:186px;top:134.05px;width:12px;height:3px;background:repeating-linear-gradient(90deg,#f0e040 0 1.2px,transparent 1.2px 2.4px);opacity:.62"></div><div class="a" style="left:186px;top:140.80px;width:12px;height:3px;background:repeating-linear-gradient(90deg,#f0e040 0 1.2px,transparent 1.2px 2.4px);opacity:.62"></div><div class="a" style="left:186px;top:147.55px;width:12px;height:3px;background:repeating-linear-gradient(90deg,#f0e040 0 1.2px,transparent 1.2px 2.4px);opacity:.62"></div><div class="a" style="left:186px;top:154.30px;width:12px;height:3px;background:repeating-linear-gradient(90deg,#f0e040 0 1.2px,transparent 1.2px 2.4px);opacity:.62"></div><div class="a" style="left:186px;top:161.05px;width:12px;height:3px;background:repeating-linear-gradient(90deg,#f0e040 0 1.2px,transparent 1.2px 2.4px);opacity:.62"></div><div class="a" style="left:186px;top:167.80px;width:12px;height:3px;background:repeating-linear-gradient(90deg,#f0e040 0 1.2px,transparent 1.2px 2.4px);opacity:.62"></div><div class="a" style="left:186px;top:174.55px;width:12px;height:3px;background:repeating-linear-gradient(90deg,#f0e040 0 1.2px,transparent 1.2px 2.4px);opacity:.62"></div><div class="a" style="left:186px;top:181.30px;width:12px;height:3px;background:repeating-linear-gradient(90deg,#f0e040 0 1.2px,transparent 1.2px 2.4px);opacity:.62"></div><div class="a" style="left:186px;top:188.05px;width:12px;height:3px;background:repeating-linear-gradient(90deg,#f0e040 0 1.2px,transparent 1.2px 2.4px);opacity:.62"></div><div class="a" style="left:222px;top:32.80px;width:4px;height:3px;background:repeating-linear-gradient(90deg,#e8e020 0 1.2px,transparent 1.2px 2.4px);opacity:.62"></div><div class="a" style="left:222px;top:39.55px;width:4px;height:3px;background:repeating-linear-gradient(90deg,#e8e020 0 1.2px,transparent 1.2px 2.4px);opacity:.62"></div><div class="a" style="left:222px;top:46.30px;width:4px;height:3px;background:repeating-linear-gradient(90deg,#e8e020 0 1.2px,transparent 1.2px 2.4px);opacity:.62"></div><div class="a" style="left:222px;top:53.05px;width:4px;height:3px;background:repeating-linear-gradient(90deg,#e8e020 0 1.2px,transparent 1.2px 2.4px);opacity:.62"></div><div class="a" style="left:222px;top:59.80px;width:4px;height:3px;background:repeating-linear-gradient(90deg,#e8e020 0 1.2px,transparent 1.2px 2.4px);opacity:.62"></div><div class="a" style="left:222px;top:66.55px;width:4px;height:3px;background:repeating-linear-gradient(90deg,#e8e020 0 1.2px,transparent 1.2px 2.4px);opacity:.62"></div><div class="a" style="left:222px;top:73.30px;width:4px;height:3px;background:repeating-linear-gradient(90deg,#e8e020 0 1.2px,transparent 1.2px 2.4px);opacity:.62"></div><div class="a" style="left:222px;top:80.05px;width:4px;height:3px;background:repeating-linear-gradient(90deg,#e8e020 0 1.2px,transparent 1.2px 2.4px);opacity:.62"></div><div class="a" style="left:222px;top:86.80px;width:4px;height:3px;background:repeating-linear-gradient(90deg,#e8e020 0 1.2px,transparent 1.2px 2.4px);opacity:.62"></div><div class="a" style="left:222px;top:93.55px;width:4px;height:3px;background:repeating-linear-gradient(90deg,#e8e020 0 1.2px,transparent 1.2px 2.4px);opacity:.62"></div><div class="a" style="left:222px;top:100.30px;width:4px;height:3px;background:repeating-linear-gradient(90deg,#e8e020 0 1.2px,transparent 1.2px 2.4px);opacity:.62"></div><div class="a" style="left:222px;top:107.05px;width:4px;height:3px;background:repeating-linear-gradient(90deg,#e8e020 0 1.2px,transparent 1.2px 2.4px);opacity:.62"></div><div class="a" style="left:222px;top:113.80px;width:4px;height:3px;background:repeating-linear-gradient(90deg,#30d0e8 0 1.2px,transparent 1.2px 2.4px);opacity:.62"></div><div class="a" style="left:222px;top:120.55px;width:4px;height:3px;background:repeating-linear-gradient(90deg,#30d0e8 0 1.2px,transparent 1.2px 2.4px);opacity:.62"></div><div class="a" style="left:222px;top:127.30px;width:4px;height:3px;background:repeating-linear-gradient(90deg,#30d0e8 0 1.2px,transparent 1.2px 2.4px);opacity:.62"></div><div class="a" style="left:222px;top:134.05px;width:4px;height:3px;background:repeating-linear-gradient(90deg,#30d0e8 0 1.2px,transparent 1.2px 2.4px);opacity:.62"></div><div class="a" style="left:222px;top:140.80px;width:4px;height:3px;background:repeating-linear-gradient(90deg,#30d0e8 0 1.2px,transparent 1.2px 2.4px);opacity:.62"></div><div class="a" style="left:222px;top:147.55px;width:4px;height:3px;background:repeating-linear-gradient(90deg,#30d0e8 0 1.2px,transparent 1.2px 2.4px);opacity:.62"></div><div class="a" style="left:222px;top:154.30px;width:4px;height:3px;background:repeating-linear-gradient(90deg,#30d0e8 0 1.2px,transparent 1.2px 2.4px);opacity:.62"></div><div class="a" style="left:222px;top:161.05px;width:4px;height:3px;background:repeating-linear-gradient(90deg,#30d0e8 0 1.2px,transparent 1.2px 2.4px);opacity:.62"></div><div class="a" style="left:222px;top:167.80px;width:4px;height:3px;background:repeating-linear-gradient(90deg,#30d0e8 0 1.2px,transparent 1.2px 2.4px);opacity:.62"></div><div class="a" style="left:222px;top:174.55px;width:4px;height:3px;background:repeating-linear-gradient(90deg,#30d0e8 0 1.2px,transparent 1.2px 2.4px);opacity:.62"></div><div class="a" style="left:222px;top:181.30px;width:4px;height:3px;background:repeating-linear-gradient(90deg,#30d0e8 0 1.2px,transparent 1.2px 2.4px);opacity:.62"></div><div class="a" style="left:222px;top:188.05px;width:4px;height:3px;background:repeating-linear-gradient(90deg,#30d0e8 0 1.2px,transparent 1.2px 2.4px);opacity:.62"></div><div class="a" style="left:253px;top:32.80px;width:12px;height:3px;background:repeating-linear-gradient(90deg,#f0e040 0 1.2px,transparent 1.2px 2.4px);opacity:.62"></div><div class="a" style="left:253px;top:39.55px;width:12px;height:3px;background:repeating-linear-gradient(90deg,#f0e040 0 1.2px,transparent 1.2px 2.4px);opacity:.62"></div><div class="a" style="left:253px;top:46.30px;width:12px;height:3px;background:repeating-linear-gradient(90deg,#f0e040 0 1.2px,transparent 1.2px 2.4px);opacity:.62"></div><div class="a" style="left:253px;top:53.05px;width:12px;height:3px;background:repeating-linear-gradient(90deg,#f0e040 0 1.2px,transparent 1.2px 2.4px);opacity:.62"></div><div class="a" style="left:253px;top:59.80px;width:12px;height:3px;background:repeating-linear-gradient(90deg,#f0e040 0 1.2px,transparent 1.2px 2.4px);opacity:.62"></div><div class="a" style="left:253px;top:66.55px;width:12px;height:3px;background:repeating-linear-gradient(90deg,#f0e040 0 1.2px,transparent 1.2px 2.4px);opacity:.62"></div><div class="a" style="left:253px;top:73.30px;width:12px;height:3px;background:repeating-linear-gradient(90deg,#f0e040 0 1.2px,transparent 1.2px 2.4px);opacity:.62"></div><div class="a" style="left:253px;top:80.05px;width:12px;height:3px;background:repeating-linear-gradient(90deg,#f0e040 0 1.2px,transparent 1.2px 2.4px);opacity:.62"></div><div class="a" style="left:253px;top:86.80px;width:12px;height:3px;background:repeating-linear-gradient(90deg,#f0e040 0 1.2px,transparent 1.2px 2.4px);opacity:.62"></div><div class="a" style="left:253px;top:93.55px;width:12px;height:3px;background:repeating-linear-gradient(90deg,#f0e040 0 1.2px,transparent 1.2px 2.4px);opacity:.62"></div><div class="a" style="left:253px;top:100.30px;width:12px;height:3px;background:repeating-linear-gradient(90deg,#f0e040 0 1.2px,transparent 1.2px 2.4px);opacity:.62"></div><div class="a" style="left:253px;top:107.05px;width:12px;height:3px;background:repeating-linear-gradient(90deg,#f0e040 0 1.2px,transparent 1.2px 2.4px);opacity:.62"></div><div class="a" style="left:253px;top:113.80px;width:12px;height:3px;background:repeating-linear-gradient(90deg,#f0e040 0 1.2px,transparent 1.2px 2.4px);opacity:.62"></div><div class="a" style="left:253px;top:120.55px;width:12px;height:3px;background:repeating-linear-gradient(90deg,#f0e040 0 1.2px,transparent 1.2px 2.4px);opacity:.62"></div><div class="a" style="left:253px;top:127.30px;width:12px;height:3px;background:repeating-linear-gradient(90deg,#f0e040 0 1.2px,transparent 1.2px 2.4px);opacity:.62"></div><div class="a" style="left:253px;top:134.05px;width:12px;height:3px;background:repeating-linear-gradient(90deg,#f0e040 0 1.2px,transparent 1.2px 2.4px);opacity:.62"></div><div class="a" style="left:253px;top:140.80px;width:12px;height:3px;background:repeating-linear-gradient(90deg,#f0e040 0 1.2px,transparent 1.2px 2.4px);opacity:.62"></div><div class="a" style="left:253px;top:147.55px;width:12px;height:3px;background:repeating-linear-gradient(90deg,#f0e040 0 1.2px,transparent 1.2px 2.4px);opacity:.62"></div><div class="a" style="left:253px;top:154.30px;width:12px;height:3px;background:repeating-linear-gradient(90deg,#f0e040 0 1.2px,transparent 1.2px 2.4px);opacity:.62"></div><div class="a" style="left:253px;top:161.05px;width:12px;height:3px;background:repeating-linear-gradient(90deg,#f0e040 0 1.2px,transparent 1.2px 2.4px);opacity:.62"></div><div class="a" style="left:253px;top:167.80px;width:12px;height:3px;background:repeating-linear-gradient(90deg,#f0e040 0 1.2px,transparent 1.2px 2.4px);opacity:.62"></div><div class="a" style="left:253px;top:174.55px;width:12px;height:3px;background:repeating-linear-gradient(90deg,#f0e040 0 1.2px,transparent 1.2px 2.4px);opacity:.62"></div><div class="a" style="left:253px;top:181.30px;width:12px;height:3px;background:repeating-linear-gradient(90deg,#f0e040 0 1.2px,transparent 1.2px 2.4px);opacity:.62"></div><div class="a" style="left:253px;top:188.05px;width:12px;height:3px;background:repeating-linear-gradient(90deg,#f0e040 0 1.2px,transparent 1.2px 2.4px);opacity:.62"></div><div class="a" style="left:292px;top:32.80px;width:4px;height:3px;background:repeating-linear-gradient(90deg,#e8e020 0 1.2px,transparent 1.2px 2.4px);opacity:.62"></div><div class="a" style="left:292px;top:39.55px;width:4px;height:3px;background:repeating-linear-gradient(90deg,#e8e020 0 1.2px,transparent 1.2px 2.4px);opacity:.62"></div><div class="a" style="left:292px;top:46.30px;width:4px;height:3px;background:repeating-linear-gradient(90deg,#e8e020 0 1.2px,transparent 1.2px 2.4px);opacity:.62"></div><div class="a" style="left:292px;top:53.05px;width:4px;height:3px;background:repeating-linear-gradient(90deg,#e8e020 0 1.2px,transparent 1.2px 2.4px);opacity:.62"></div><div class="a" style="left:292px;top:59.80px;width:4px;height:3px;background:repeating-linear-gradient(90deg,#e8e020 0 1.2px,transparent 1.2px 2.4px);opacity:.62"></div><div class="a" style="left:292px;top:66.55px;width:4px;height:3px;background:repeating-linear-gradient(90deg,#e8e020 0 1.2px,transparent 1.2px 2.4px);opacity:.62"></div><div class="a" style="left:292px;top:73.30px;width:4px;height:3px;background:repeating-linear-gradient(90deg,#e8e020 0 1.2px,transparent 1.2px 2.4px);opacity:.62"></div><div class="a" style="left:292px;top:80.05px;width:4px;height:3px;background:repeating-linear-gradient(90deg,#e8e020 0 1.2px,transparent 1.2px 2.4px);opacity:.62"></div><div class="a" style="left:292px;top:86.80px;width:4px;height:3px;background:repeating-linear-gradient(90deg,#e8e020 0 1.2px,transparent 1.2px 2.4px);opacity:.62"></div><div class="a" style="left:292px;top:93.55px;width:4px;height:3px;background:repeating-linear-gradient(90deg,#e8e020 0 1.2px,transparent 1.2px 2.4px);opacity:.62"></div><div class="a" style="left:292px;top:100.30px;width:4px;height:3px;background:repeating-linear-gradient(90deg,#e8e020 0 1.2px,transparent 1.2px 2.4px);opacity:.62"></div><div class="a" style="left:292px;top:107.05px;width:4px;height:3px;background:repeating-linear-gradient(90deg,#e8e020 0 1.2px,transparent 1.2px 2.4px);opacity:.62"></div><div class="a" style="left:292px;top:113.80px;width:4px;height:3px;background:repeating-linear-gradient(90deg,#30d0e8 0 1.2px,transparent 1.2px 2.4px);opacity:.62"></div><div class="a" style="left:292px;top:120.55px;width:4px;height:3px;background:repeating-linear-gradient(90deg,#30d0e8 0 1.2px,transparent 1.2px 2.4px);opacity:.62"></div><div class="a" style="left:292px;top:127.30px;width:4px;height:3px;background:repeating-linear-gradient(90deg,#30d0e8 0 1.2px,transparent 1.2px 2.4px);opacity:.62"></div><div class="a" style="left:292px;top:134.05px;width:4px;height:3px;background:repeating-linear-gradient(90deg,#30d0e8 0 1.2px,transparent 1.2px 2.4px);opacity:.62"></div><div class="a" style="left:292px;top:140.80px;width:4px;height:3px;background:repeating-linear-gradient(90deg,#30d0e8 0 1.2px,transparent 1.2px 2.4px);opacity:.62"></div><div class="a" style="left:292px;top:147.55px;width:4px;height:3px;background:repeating-linear-gradient(90deg,#30d0e8 0 1.2px,transparent 1.2px 2.4px);opacity:.62"></div><div class="a" style="left:292px;top:154.30px;width:4px;height:3px;background:repeating-linear-gradient(90deg,#30d0e8 0 1.2px,transparent 1.2px 2.4px);opacity:.62"></div><div class="a" style="left:292px;top:161.05px;width:4px;height:3px;background:repeating-linear-gradient(90deg,#30d0e8 0 1.2px,transparent 1.2px 2.4px);opacity:.62"></div><div class="a" style="left:292px;top:167.80px;width:4px;height:3px;background:repeating-linear-gradient(90deg,#30d0e8 0 1.2px,transparent 1.2px 2.4px);opacity:.62"></div><div class="a" style="left:292px;top:174.55px;width:4px;height:3px;background:repeating-linear-gradient(90deg,#30d0e8 0 1.2px,transparent 1.2px 2.4px);opacity:.62"></div><div class="a" style="left:292px;top:181.30px;width:4px;height:3px;background:repeating-linear-gradient(90deg,#30d0e8 0 1.2px,transparent 1.2px 2.4px);opacity:.62"></div><div class="a" style="left:292px;top:188.05px;width:4px;height:3px;background:repeating-linear-gradient(90deg,#30d0e8 0 1.2px,transparent 1.2px 2.4px);opacity:.62"></div><div class="a" style="left:320px;top:32.80px;width:12px;height:3px;background:repeating-linear-gradient(90deg,#f0e040 0 1.2px,transparent 1.2px 2.4px);opacity:.62"></div><div class="a" style="left:320px;top:39.55px;width:12px;height:3px;background:repeating-linear-gradient(90deg,#f0e040 0 1.2px,transparent 1.2px 2.4px);opacity:.62"></div><div class="a" style="left:320px;top:46.30px;width:12px;height:3px;background:repeating-linear-gradient(90deg,#f0e040 0 1.2px,transparent 1.2px 2.4px);opacity:.62"></div><div class="a" style="left:320px;top:53.05px;width:12px;height:3px;background:repeating-linear-gradient(90deg,#f0e040 0 1.2px,transparent 1.2px 2.4px);opacity:.62"></div><div class="a" style="left:320px;top:59.80px;width:12px;height:3px;background:repeating-linear-gradient(90deg,#f0e040 0 1.2px,transparent 1.2px 2.4px);opacity:.62"></div><div class="a" style="left:320px;top:66.55px;width:12px;height:3px;background:repeating-linear-gradient(90deg,#f0e040 0 1.2px,transparent 1.2px 2.4px);opacity:.62"></div><div class="a" style="left:320px;top:73.30px;width:12px;height:3px;background:repeating-linear-gradient(90deg,#f0e040 0 1.2px,transparent 1.2px 2.4px);opacity:.62"></div><div class="a" style="left:320px;top:80.05px;width:12px;height:3px;background:repeating-linear-gradient(90deg,#f0e040 0 1.2px,transparent 1.2px 2.4px);opacity:.62"></div><div class="a" style="left:320px;top:86.80px;width:12px;height:3px;background:repeating-linear-gradient(90deg,#f0e040 0 1.2px,transparent 1.2px 2.4px);opacity:.62"></div><div class="a" style="left:320px;top:93.55px;width:12px;height:3px;background:repeating-linear-gradient(90deg,#f0e040 0 1.2px,transparent 1.2px 2.4px);opacity:.62"></div><div class="a" style="left:320px;top:100.30px;width:12px;height:3px;background:repeating-linear-gradient(90deg,#f0e040 0 1.2px,transparent 1.2px 2.4px);opacity:.62"></div><div class="a" style="left:320px;top:107.05px;width:12px;height:3px;background:repeating-linear-gradient(90deg,#f0e040 0 1.2px,transparent 1.2px 2.4px);opacity:.62"></div><div class="a" style="left:320px;top:113.80px;width:12px;height:3px;background:repeating-linear-gradient(90deg,#f0e040 0 1.2px,transparent 1.2px 2.4px);opacity:.62"></div><div class="a" style="left:320px;top:120.55px;width:12px;height:3px;background:repeating-linear-gradient(90deg,#f0e040 0 1.2px,transparent 1.2px 2.4px);opacity:.62"></div><div class="a" style="left:320px;top:127.30px;width:12px;height:3px;background:repeating-linear-gradient(90deg,#f0e040 0 1.2px,transparent 1.2px 2.4px);opacity:.62"></div><div class="a" style="left:320px;top:134.05px;width:12px;height:3px;background:repeating-linear-gradient(90deg,#f0e040 0 1.2px,transparent 1.2px 2.4px);opacity:.62"></div><div class="a" style="left:320px;top:140.80px;width:12px;height:3px;background:repeating-linear-gradient(90deg,#f0e040 0 1.2px,transparent 1.2px 2.4px);opacity:.62"></div><div class="a" style="left:320px;top:147.55px;width:12px;height:3px;background:repeating-linear-gradient(90deg,#f0e040 0 1.2px,transparent 1.2px 2.4px);opacity:.62"></div><div class="a" style="left:320px;top:154.30px;width:12px;height:3px;background:repeating-linear-gradient(90deg,#f0e040 0 1.2px,transparent 1.2px 2.4px);opacity:.62"></div><div class="a" style="left:320px;top:161.05px;width:12px;height:3px;background:repeating-linear-gradient(90deg,#f0e040 0 1.2px,transparent 1.2px 2.4px);opacity:.62"></div><div class="a" style="left:320px;top:167.80px;width:12px;height:3px;background:repeating-linear-gradient(90deg,#f0e040 0 1.2px,transparent 1.2px 2.4px);opacity:.62"></div><div class="a" style="left:320px;top:174.55px;width:12px;height:3px;background:repeating-linear-gradient(90deg,#f0e040 0 1.2px,transparent 1.2px 2.4px);opacity:.62"></div><div class="a" style="left:320px;top:181.30px;width:12px;height:3px;background:repeating-linear-gradient(90deg,#f0e040 0 1.2px,transparent 1.2px 2.4px);opacity:.62"></div><div class="a" style="left:320px;top:188.05px;width:12px;height:3px;background:repeating-linear-gradient(90deg,#f0e040 0 1.2px,transparent 1.2px 2.4px);opacity:.62"></div><div class="a" style="left:360px;top:32.80px;width:5px;height:3px;background:repeating-linear-gradient(90deg,#e8e020 0 1.2px,transparent 1.2px 2.4px);opacity:.62"></div><div class="a" style="left:360px;top:39.55px;width:5px;height:3px;background:repeating-linear-gradient(90deg,#e8e020 0 1.2px,transparent 1.2px 2.4px);opacity:.62"></div><div class="a" style="left:360px;top:46.30px;width:5px;height:3px;background:repeating-linear-gradient(90deg,#e8e020 0 1.2px,transparent 1.2px 2.4px);opacity:.62"></div><div class="a" style="left:360px;top:53.05px;width:5px;height:3px;background:repeating-linear-gradient(90deg,#e8e020 0 1.2px,transparent 1.2px 2.4px);opacity:.62"></div><div class="a" style="left:360px;top:59.80px;width:5px;height:3px;background:repeating-linear-gradient(90deg,#e8e020 0 1.2px,transparent 1.2px 2.4px);opacity:.62"></div><div class="a" style="left:360px;top:66.55px;width:5px;height:3px;background:repeating-linear-gradient(90deg,#e8e020 0 1.2px,transparent 1.2px 2.4px);opacity:.62"></div><div class="a" style="left:360px;top:73.30px;width:5px;height:3px;background:repeating-linear-gradient(90deg,#e8e020 0 1.2px,transparent 1.2px 2.4px);opacity:.62"></div><div class="a" style="left:360px;top:80.05px;width:5px;height:3px;background:repeating-linear-gradient(90deg,#e8e020 0 1.2px,transparent 1.2px 2.4px);opacity:.62"></div><div class="a" style="left:360px;top:86.80px;width:5px;height:3px;background:repeating-linear-gradient(90deg,#e8e020 0 1.2px,transparent 1.2px 2.4px);opacity:.62"></div><div class="a" style="left:360px;top:93.55px;width:5px;height:3px;background:repeating-linear-gradient(90deg,#e8e020 0 1.2px,transparent 1.2px 2.4px);opacity:.62"></div><div class="a" style="left:360px;top:100.30px;width:5px;height:3px;background:repeating-linear-gradient(90deg,#e8e020 0 1.2px,transparent 1.2px 2.4px);opacity:.62"></div><div class="a" style="left:360px;top:107.05px;width:5px;height:3px;background:repeating-linear-gradient(90deg,#e8e020 0 1.2px,transparent 1.2px 2.4px);opacity:.62"></div><div class="a" style="left:360px;top:113.80px;width:5px;height:3px;background:repeating-linear-gradient(90deg,#30d0e8 0 1.2px,transparent 1.2px 2.4px);opacity:.62"></div><div class="a" style="left:360px;top:120.55px;width:5px;height:3px;background:repeating-linear-gradient(90deg,#30d0e8 0 1.2px,transparent 1.2px 2.4px);opacity:.62"></div><div class="a" style="left:360px;top:127.30px;width:5px;height:3px;background:repeating-linear-gradient(90deg,#30d0e8 0 1.2px,transparent 1.2px 2.4px);opacity:.62"></div><div class="a" style="left:360px;top:134.05px;width:5px;height:3px;background:repeating-linear-gradient(90deg,#30d0e8 0 1.2px,transparent 1.2px 2.4px);opacity:.62"></div><div class="a" style="left:360px;top:140.80px;width:5px;height:3px;background:repeating-linear-gradient(90deg,#30d0e8 0 1.2px,transparent 1.2px 2.4px);opacity:.62"></div><div class="a" style="left:360px;top:147.55px;width:5px;height:3px;background:repeating-linear-gradient(90deg,#30d0e8 0 1.2px,transparent 1.2px 2.4px);opacity:.62"></div><div class="a" style="left:360px;top:154.30px;width:5px;height:3px;background:repeating-linear-gradient(90deg,#30d0e8 0 1.2px,transparent 1.2px 2.4px);opacity:.62"></div><div class="a" style="left:360px;top:161.05px;width:5px;height:3px;background:repeating-linear-gradient(90deg,#30d0e8 0 1.2px,transparent 1.2px 2.4px);opacity:.62"></div><div class="a" style="left:360px;top:167.80px;width:5px;height:3px;background:repeating-linear-gradient(90deg,#30d0e8 0 1.2px,transparent 1.2px 2.4px);opacity:.62"></div><div class="a" style="left:360px;top:174.55px;width:5px;height:3px;background:repeating-linear-gradient(90deg,#30d0e8 0 1.2px,transparent 1.2px 2.4px);opacity:.62"></div><div class="a" style="left:360px;top:181.30px;width:5px;height:3px;background:repeating-linear-gradient(90deg,#30d0e8 0 1.2px,transparent 1.2px 2.4px);opacity:.62"></div><div class="a" style="left:360px;top:188.05px;width:5px;height:3px;background:repeating-linear-gradient(90deg,#30d0e8 0 1.2px,transparent 1.2px 2.4px);opacity:.62"></div><div class="a" style="left:0;top:30.50px;width:384px;height:1px;background:#6a0a0a"></div><div class="a" style="left:0;top:37.25px;width:384px;height:1px;background:#6a0a0a"></div><div class="a" style="left:0;top:44.00px;width:384px;height:1px;background:#6a0a0a"></div><div class="a" style="left:0;top:50.75px;width:384px;height:1px;background:#6a0a0a"></div><div class="a" style="left:0;top:57.50px;width:384px;height:1px;background:#6a0a0a"></div><div class="a" style="left:0;top:64.25px;width:384px;height:1px;background:#6a0a0a"></div><div class="a" style="left:0;top:71.00px;width:384px;height:1px;background:#6a0a0a"></div><div class="a" style="left:0;top:77.75px;width:384px;height:1px;background:#6a0a0a"></div><div class="a" style="left:0;top:84.50px;width:384px;height:1px;background:#6a0a0a"></div><div class="a" style="left:0;top:91.25px;width:384px;height:1px;background:#6a0a0a"></div><div class="a" style="left:0;top:98.00px;width:384px;height:1px;background:#6a0a0a"></div><div class="a" style="left:0;top:104.75px;width:384px;height:1px;background:#6a0a0a"></div><div class="a" style="left:0;top:111.50px;width:384px;height:1px;background:#6a0a0a"></div><div class="a" style="left:0;top:118.25px;width:384px;height:1px;background:#6a0a0a"></div><div class="a" style="left:0;top:125.00px;width:384px;height:1px;background:#6a0a0a"></div><div class="a" style="left:0;top:131.75px;width:384px;height:1px;background:#6a0a0a"></div><div class="a" style="left:0;top:138.50px;width:384px;height:1px;background:#6a0a0a"></div><div class="a" style="left:0;top:145.25px;width:384px;height:1px;background:#6a0a0a"></div><div class="a" style="left:0;top:152.00px;width:384px;height:1px;background:#6a0a0a"></div><div class="a" style="left:0;top:158.75px;width:384px;height:1px;background:#6a0a0a"></div><div class="a" style="left:0;top:165.50px;width:384px;height:1px;background:#6a0a0a"></div><div class="a" style="left:0;top:172.25px;width:384px;height:1px;background:#6a0a0a"></div><div class="a" style="left:0;top:179.00px;width:384px;height:1px;background:#6a0a0a"></div><div class="a" style="left:0;top:185.75px;width:384px;height:1px;background:#6a0a0a"></div><div class="a" style="left:0;top:192.50px;width:384px;height:1px;background:#6a0a0a"></div><div class="a" style="left:0;top:193px;width:384px;height:1.5px;background:#808080"></div><div class="a" style="left:60px;top:195.5px;width:14px;height:2px;background:#b01010"></div><div class="a" style="left:192px;top:195.5px;width:14px;height:2px;background:#b01010"></div><div class="a" style="left:322px;top:195.5px;width:14px;height:2px;background:#b01010"></div><div class="a" style="left:47px;top:200.00px;width:20px;height:7.30px;background:#ff1a10"></div><div class="a" style="left:47px;top:207.30px;width:20px;height:7.30px;background:#ff1a10"></div><div class="a" style="left:47px;top:214.60px;width:20px;height:7.30px;background:#ff1a10"></div><div class="a" style="left:47px;top:221.90px;width:20px;height:7.30px;background:#ff1a10"></div><div class="a" style="left:47px;top:229.20px;width:20px;height:7.30px;background:#ff1a10"></div><div class="a" style="left:47px;top:236.50px;width:20px;height:7.30px;background:#ff1a10"></div><div class="a" style="left:114.5px;top:200.00px;width:20px;height:7.30px;background:#ff1a10"></div><div class="a" style="left:114.5px;top:207.30px;width:20px;height:7.30px;background:#ff1a10"></div><div class="a" style="left:114.5px;top:214.60px;width:20px;height:7.30px;background:#ff1a10"></div><div class="a" style="left:114.5px;top:221.90px;width:20px;height:7.30px;background:#ff1a10"></div><div class="a" style="left:114.5px;top:229.20px;width:20px;height:7.30px;background:#ff1a10"></div><div class="a" style="left:114.5px;top:236.50px;width:20px;height:7.30px;background:#ff1a10"></div><div class="a" style="left:182px;top:200.00px;width:20.5px;height:7.30px;background:#ff1a10"></div><div class="a" style="left:182px;top:207.30px;width:20.5px;height:7.30px;background:#ff1a10"></div><div class="a" style="left:182px;top:214.60px;width:20.5px;height:7.30px;background:#0a0a38"></div><div class="a" style="left:182px;top:221.90px;width:20.5px;height:7.30px;background:#ff1a10"></div><div class="a" style="left:182px;top:229.20px;width:20.5px;height:7.30px;background:#0a0a38"></div><div class="a" style="left:182px;top:236.50px;width:20.5px;height:7.30px;background:#ff1a10"></div><div class="a" style="left:251px;top:200.00px;width:20px;height:7.30px;background:#ff1a10"></div><div class="a" style="left:251px;top:207.30px;width:20px;height:7.30px;background:#ff1a10"></div><div class="a" style="left:251px;top:214.60px;width:20px;height:7.30px;background:#0a0a38"></div><div class="a" style="left:251px;top:221.90px;width:20px;height:7.30px;background:#0a0a38"></div><div class="a" style="left:251px;top:229.20px;width:20px;height:7.30px;background:#0a0a38"></div><div class="a" style="left:251px;top:236.50px;width:20px;height:7.30px;background:#0a0a38"></div><div class="a" style="left:322px;top:200.00px;width:19.5px;height:7.30px;background:#0a0a38"></div><div class="a" style="left:322px;top:207.30px;width:19.5px;height:7.30px;background:#ff1a10"></div><div class="a" style="left:322px;top:214.60px;width:19.5px;height:7.30px;background:#0a0a38"></div><div class="a" style="left:322px;top:221.90px;width:19.5px;height:7.30px;background:#ff1a10"></div><div class="a" style="left:322px;top:229.20px;width:19.5px;height:7.30px;background:#0a0a38"></div><div class="a" style="left:322px;top:236.50px;width:19.5px;height:7.30px;background:#ff1a10"></div><div class="a" style="left:0;top:199.50px;width:384px;height:1px;background:#6a0a0a"></div><div class="a" style="left:0;top:206.80px;width:384px;height:1px;background:#6a0a0a"></div><div class="a" style="left:0;top:214.10px;width:384px;height:1px;background:#6a0a0a"></div><div class="a" style="left:0;top:221.40px;width:384px;height:1px;background:#6a0a0a"></div><div class="a" style="left:0;top:228.70px;width:384px;height:1px;background:#6a0a0a"></div><div class="a" style="left:0;top:236.00px;width:384px;height:1px;background:#6a0a0a"></div><div class="a" style="left:0;top:243.30px;width:384px;height:1px;background:#6a0a0a"></div><div class="a" style="left:22px;top:201.80px;width:6px;height:3px;background:repeating-linear-gradient(90deg,#e8e020 0 1.2px,transparent 1.2px 2.4px);opacity:.62"></div><div class="a" style="left:22px;top:209.10px;width:6px;height:3px;background:repeating-linear-gradient(90deg,#e8e020 0 1.2px,transparent 1.2px 2.4px);opacity:.62"></div><div class="a" style="left:22px;top:216.40px;width:6px;height:3px;background:repeating-linear-gradient(90deg,#e8e020 0 1.2px,transparent 1.2px 2.4px);opacity:.62"></div><div class="a" style="left:22px;top:223.70px;width:6px;height:3px;background:repeating-linear-gradient(90deg,#30d0e8 0 1.2px,transparent 1.2px 2.4px);opacity:.62"></div><div class="a" style="left:22px;top:231.00px;width:6px;height:3px;background:repeating-linear-gradient(90deg,#30d0e8 0 1.2px,transparent 1.2px 2.4px);opacity:.62"></div><div class="a" style="left:22px;top:238.30px;width:6px;height:3px;background:repeating-linear-gradient(90deg,#30d0e8 0 1.2px,transparent 1.2px 2.4px);opacity:.62"></div><div class="a" style="left:86px;top:201.80px;width:6px;height:3px;background:repeating-linear-gradient(90deg,#e8e020 0 1.2px,transparent 1.2px 2.4px);opacity:.62"></div><div class="a" style="left:86px;top:209.10px;width:6px;height:3px;background:repeating-linear-gradient(90deg,#e8e020 0 1.2px,transparent 1.2px 2.4px);opacity:.62"></div><div class="a" style="left:86px;top:216.40px;width:6px;height:3px;background:repeating-linear-gradient(90deg,#e8e020 0 1.2px,transparent 1.2px 2.4px);opacity:.62"></div><div class="a" style="left:86px;top:223.70px;width:6px;height:3px;background:repeating-linear-gradient(90deg,#30d0e8 0 1.2px,transparent 1.2px 2.4px);opacity:.62"></div><div class="a" style="left:86px;top:231.00px;width:6px;height:3px;background:repeating-linear-gradient(90deg,#30d0e8 0 1.2px,transparent 1.2px 2.4px);opacity:.62"></div><div class="a" style="left:86px;top:238.30px;width:6px;height:3px;background:repeating-linear-gradient(90deg,#30d0e8 0 1.2px,transparent 1.2px 2.4px);opacity:.62"></div><div class="a" style="left:155px;top:201.80px;width:6px;height:3px;background:repeating-linear-gradient(90deg,#e8e020 0 1.2px,transparent 1.2px 2.4px);opacity:.62"></div><div class="a" style="left:155px;top:209.10px;width:6px;height:3px;background:repeating-linear-gradient(90deg,#e8e020 0 1.2px,transparent 1.2px 2.4px);opacity:.62"></div><div class="a" style="left:155px;top:216.40px;width:6px;height:3px;background:repeating-linear-gradient(90deg,#e8e020 0 1.2px,transparent 1.2px 2.4px);opacity:.62"></div><div class="a" style="left:155px;top:223.70px;width:6px;height:3px;background:repeating-linear-gradient(90deg,#30d0e8 0 1.2px,transparent 1.2px 2.4px);opacity:.62"></div><div class="a" style="left:155px;top:231.00px;width:6px;height:3px;background:repeating-linear-gradient(90deg,#30d0e8 0 1.2px,transparent 1.2px 2.4px);opacity:.62"></div><div class="a" style="left:155px;top:238.30px;width:6px;height:3px;background:repeating-linear-gradient(90deg,#30d0e8 0 1.2px,transparent 1.2px 2.4px);opacity:.62"></div><div class="a" style="left:222px;top:201.80px;width:6px;height:3px;background:repeating-linear-gradient(90deg,#e8e020 0 1.2px,transparent 1.2px 2.4px);opacity:.62"></div><div class="a" style="left:222px;top:209.10px;width:6px;height:3px;background:repeating-linear-gradient(90deg,#e8e020 0 1.2px,transparent 1.2px 2.4px);opacity:.62"></div><div class="a" style="left:222px;top:216.40px;width:6px;height:3px;background:repeating-linear-gradient(90deg,#e8e020 0 1.2px,transparent 1.2px 2.4px);opacity:.62"></div><div class="a" style="left:222px;top:223.70px;width:6px;height:3px;background:repeating-linear-gradient(90deg,#30d0e8 0 1.2px,transparent 1.2px 2.4px);opacity:.62"></div><div class="a" style="left:222px;top:231.00px;width:6px;height:3px;background:repeating-linear-gradient(90deg,#30d0e8 0 1.2px,transparent 1.2px 2.4px);opacity:.62"></div><div class="a" style="left:222px;top:238.30px;width:6px;height:3px;background:repeating-linear-gradient(90deg,#30d0e8 0 1.2px,transparent 1.2px 2.4px);opacity:.62"></div><div class="a" style="left:292px;top:201.80px;width:6px;height:3px;background:repeating-linear-gradient(90deg,#e8e020 0 1.2px,transparent 1.2px 2.4px);opacity:.62"></div><div class="a" style="left:292px;top:209.10px;width:6px;height:3px;background:repeating-linear-gradient(90deg,#e8e020 0 1.2px,transparent 1.2px 2.4px);opacity:.62"></div><div class="a" style="left:292px;top:216.40px;width:6px;height:3px;background:repeating-linear-gradient(90deg,#e8e020 0 1.2px,transparent 1.2px 2.4px);opacity:.62"></div><div class="a" style="left:292px;top:223.70px;width:6px;height:3px;background:repeating-linear-gradient(90deg,#30d0e8 0 1.2px,transparent 1.2px 2.4px);opacity:.62"></div><div class="a" style="left:292px;top:231.00px;width:6px;height:3px;background:repeating-linear-gradient(90deg,#30d0e8 0 1.2px,transparent 1.2px 2.4px);opacity:.62"></div><div class="a" style="left:292px;top:238.30px;width:6px;height:3px;background:repeating-linear-gradient(90deg,#30d0e8 0 1.2px,transparent 1.2px 2.4px);opacity:.62"></div><div class="a" style="left:358px;top:201.80px;width:6px;height:3px;background:repeating-linear-gradient(90deg,#e8e020 0 1.2px,transparent 1.2px 2.4px);opacity:.62"></div><div class="a" style="left:358px;top:209.10px;width:6px;height:3px;background:repeating-linear-gradient(90deg,#e8e020 0 1.2px,transparent 1.2px 2.4px);opacity:.62"></div><div class="a" style="left:358px;top:216.40px;width:6px;height:3px;background:repeating-linear-gradient(90deg,#e8e020 0 1.2px,transparent 1.2px 2.4px);opacity:.62"></div><div class="a" style="left:358px;top:223.70px;width:6px;height:3px;background:repeating-linear-gradient(90deg,#30d0e8 0 1.2px,transparent 1.2px 2.4px);opacity:.62"></div><div class="a" style="left:358px;top:231.00px;width:6px;height:3px;background:repeating-linear-gradient(90deg,#30d0e8 0 1.2px,transparent 1.2px 2.4px);opacity:.62"></div><div class="a" style="left:358px;top:238.30px;width:6px;height:3px;background:repeating-linear-gradient(90deg,#30d0e8 0 1.2px,transparent 1.2px 2.4px);opacity:.62"></div><div class="a" style="left:0;top:244px;width:384px;height:1.5px;background:#808080"></div><div class="a" style="left:236px;top:245px;width:1px;height:41px;background:#707070"></div><div class="a" style="left:270px;top:245px;width:1px;height:41px;background:#707070"></div><div class="a" style="left:3px;top:250px;width:46px;height:5px;background:#d01818"></div><div class="a" style="left:10px;top:259px;width:30px;height:4px;background:#18a018"></div><div class="a" style="left:67px;top:248px;width:17px;height:6px;border:1px solid #a02020"></div><div class="a" style="left:67px;top:258px;width:17px;height:6px;border:1px solid #a02020"></div><div class="a" style="left:67px;top:268px;width:17px;height:6px;border:1px solid #a02020"></div><div class="a" style="left:112px;top:250px;width:30px;height:3px;background:#c01818"></div><div class="a" style="left:112px;top:268px;width:38px;height:3px;background:#c01818"></div><div class="a" style="left:240px;top:249px;width:12px;height:6px;border:1px solid #a02020"></div><div class="a" style="left:254px;top:249px;width:12px;height:6px;border:1px solid #606060"></div><div class="a" style="left:240px;top:257px;width:12px;height:6px;border:1px solid #a02020"></div><div class="a" style="left:254px;top:257px;width:12px;height:6px;border:1px solid #606060"></div><div class="a" style="left:240px;top:265px;width:12px;height:6px;border:1px solid #a02020"></div><div class="a" style="left:254px;top:265px;width:12px;height:6px;border:1px solid #606060"></div><div class="a" style="left:240px;top:273px;width:12px;height:6px;border:1px solid #a02020"></div><div class="a" style="left:254px;top:273px;width:12px;height:6px;border:1px solid #606060"></div><div class="a" style="left:284px;top:250px;width:16px;height:3px;background:#c01818"></div><div class="a" style="left:305px;top:250px;width:60px;height:2px;background:#a01010"></div><div class="a" style="left:284px;top:256px;width:16px;height:3px;background:#c01818"></div><div class="a" style="left:305px;top:256px;width:60px;height:2px;background:#a01010"></div><div class="a" style="left:284px;top:262px;width:16px;height:3px;background:#c01818"></div><div class="a" style="left:305px;top:262px;width:60px;height:2px;background:#a01010"></div><div class="a" style="left:284px;top:268px;width:16px;height:3px;background:#c01818"></div><div class="a" style="left:305px;top:268px;width:60px;height:2px;background:#a01010"></div><div class="a" style="left:284px;top:274px;width:16px;height:3px;background:#c01818"></div><div class="a" style="left:305px;top:274px;width:60px;height:2px;background:#a01010"></div><div class="a" style="left:284px;top:280px;width:16px;height:3px;background:#c01818"></div><div class="a" style="left:305px;top:280px;width:60px;height:2px;background:#a01010"></div>
</div></div>
<div class="a" style="left:773.50px;top:464.20px;width:509.20px;height:339.60px;border-radius:50%;overflow:hidden">
<div class="a" style="left:70.50px;top:44.80px;width:358px;height:247px;overflow:hidden;background:#15171c">
<div class="a" style="left:2px;top:4px;width:354px;height:240px;background:#202a38"></div><div class="a" style="left:3px;top:5px;width:353px;height:13px;background:linear-gradient(180deg,#c9dcef,#a9c6e6)"></div><div class="a" style="left:3px;top:18px;width:353px;height:6px;background:#d8e2ec"></div><div class="a" style="left:342px;top:30px;width:14px;height:75px;background:#10141c"></div><div class="a" style="left:341px;top:40px;width:2px;height:60px;background:#2a5ad0"></div><div class="a" style="left:341px;top:101px;width:15px;height:1.5px;background:#9a9a9a"></div><div class="a" style="left:6.5px;top:18px;width:335px;height:221px;background:#e8e9ea;border-left:2px solid #3a7ee0;border-bottom:3px solid #3a7ee0;border-right:2px solid #3a7ee0;box-sizing:border-box"></div><div class="a" style="left:6.5px;top:18px;width:335px;height:10px;background:linear-gradient(180deg,#5aa8f0,#2d86e0)"></div><div class="a" style="left:12px;top:20px;width:60px;height:5px;background:#e8f0f8;opacity:.7"></div><div class="a" style="left:316px;top:19px;width:7px;height:8px;background:#9ec4ec"></div><div class="a" style="left:324px;top:19px;width:7px;height:8px;background:#9ec4ec"></div><div class="a" style="left:332px;top:19px;width:8px;height:8px;background:#d85040"></div><div class="a" style="left:8.5px;top:28px;width:331px;height:8px;background:#dcdcdc"></div><div class="a" style="left:10.8px;top:36.4px;width:253.6px;height:171px;background:#150c0c"></div><div class="a" style="left:24.0px;top:48px;width:1.2px;height:145px;background:#c02020"></div><div class="a" style="left:39.2px;top:48px;width:1.2px;height:145px;background:#c02020"></div><div class="a" style="left:54.4px;top:48px;width:1.2px;height:145px;background:#c02020"></div><div class="a" style="left:69.6px;top:48px;width:1.2px;height:145px;background:#c02020"></div><div class="a" style="left:84.8px;top:48px;width:1.2px;height:145px;background:#c02020"></div><div class="a" style="left:100.0px;top:48px;width:1.2px;height:145px;background:#c02020"></div><div class="a" style="left:115.2px;top:48px;width:1.2px;height:145px;background:#c02020"></div><div class="a" style="left:130.4px;top:48px;width:1.2px;height:145px;background:#c02020"></div><div class="a" style="left:145.6px;top:48px;width:1.2px;height:145px;background:#c02020"></div><div class="a" style="left:160.8px;top:48px;width:1.2px;height:145px;background:#c02020"></div><div class="a" style="left:176.0px;top:48px;width:1.2px;height:145px;background:#c02020"></div><div class="a" style="left:191.2px;top:48px;width:1.2px;height:145px;background:#c02020"></div><div class="a" style="left:206.4px;top:48px;width:1.2px;height:145px;background:#c02020"></div><div class="a" style="left:221.6px;top:48px;width:1.2px;height:145px;background:#c02020"></div><div class="a" style="left:236.8px;top:48px;width:1.2px;height:145px;background:#c02020"></div><div class="a" style="left:252.0px;top:48px;width:1.2px;height:145px;background:#c02020"></div><div class="a" style="left:24px;top:96.8px;width:240px;height:1.2px;background:#d02020"></div><div class="a" style="left:24px;top:144px;width:240px;height:1.2px;background:#d02020"></div><div class="a" style="left:24px;top:191.5px;width:240px;height:1.5px;background:#d02020"></div><div class="a" style="left:23.5px;top:42px;width:1.5px;height:151px;background:#d02020"></div><div class="a" style="left:20px;top:193px;width:244px;height:4px;background:repeating-linear-gradient(90deg,#c02020 0 6px,#150c0c 6px 15.2px)"></div><svg class="a" style="left:0;top:0" width="358" height="247"><path d="M24,144.6 L87,144.6 C92,132 100,122 130,114 C160,107 190,104 219,103.2 L222,103 C226,110 232,116 250,123 L264.4,127" fill="none" stroke="#3f6fe8" stroke-width="1.6"/></svg><div class="a" style="left:264.4px;top:36.4px;width:73.6px;height:171px;background:#eeeef0"></div><div class="a" style="left:266px;top:40.0px;width:70px;height:.8px;background:#cfcfd4"></div><div class="a" style="left:268px;top:42.5px;width:14px;height:1.5px;background:#b8b8c0"></div><div class="a" style="left:290px;top:42.5px;width:8px;height:1.5px;background:#b8b8c0"></div><div class="a" style="left:315px;top:42.5px;width:7px;height:1.5px;background:#b8b8c0"></div><div class="a" style="left:266px;top:47.0px;width:70px;height:.8px;background:#cfcfd4"></div><div class="a" style="left:268px;top:49.5px;width:14px;height:1.5px;background:#b8b8c0"></div><div class="a" style="left:290px;top:49.5px;width:8px;height:1.5px;background:#b8b8c0"></div><div class="a" style="left:315px;top:49.5px;width:7px;height:1.5px;background:#b8b8c0"></div><div class="a" style="left:266px;top:54.1px;width:70px;height:.8px;background:#cfcfd4"></div><div class="a" style="left:268px;top:56.6px;width:14px;height:1.5px;background:#b8b8c0"></div><div class="a" style="left:290px;top:56.6px;width:8px;height:1.5px;background:#b8b8c0"></div><div class="a" style="left:315px;top:56.6px;width:7px;height:1.5px;background:#b8b8c0"></div><div class="a" style="left:266px;top:61.1px;width:70px;height:.8px;background:#cfcfd4"></div><div class="a" style="left:268px;top:63.6px;width:14px;height:1.5px;background:#b8b8c0"></div><div class="a" style="left:290px;top:63.6px;width:8px;height:1.5px;background:#b8b8c0"></div><div class="a" style="left:315px;top:63.6px;width:7px;height:1.5px;background:#b8b8c0"></div><div class="a" style="left:266px;top:68.2px;width:70px;height:.8px;background:#cfcfd4"></div><div class="a" style="left:268px;top:70.7px;width:14px;height:1.5px;background:#b8b8c0"></div><div class="a" style="left:290px;top:70.7px;width:8px;height:1.5px;background:#b8b8c0"></div><div class="a" style="left:315px;top:70.7px;width:7px;height:1.5px;background:#b8b8c0"></div><div class="a" style="left:266px;top:75.2px;width:70px;height:.8px;background:#cfcfd4"></div><div class="a" style="left:268px;top:77.8px;width:14px;height:1.5px;background:#b8b8c0"></div><div class="a" style="left:290px;top:77.8px;width:8px;height:1.5px;background:#b8b8c0"></div><div class="a" style="left:315px;top:77.8px;width:7px;height:1.5px;background:#b8b8c0"></div><div class="a" style="left:266px;top:82.3px;width:70px;height:.8px;background:#cfcfd4"></div><div class="a" style="left:268px;top:84.8px;width:14px;height:1.5px;background:#b8b8c0"></div><div class="a" style="left:290px;top:84.8px;width:8px;height:1.5px;background:#b8b8c0"></div><div class="a" style="left:315px;top:84.8px;width:7px;height:1.5px;background:#b8b8c0"></div><div class="a" style="left:266px;top:89.3px;width:70px;height:.8px;background:#cfcfd4"></div><div class="a" style="left:268px;top:91.8px;width:14px;height:1.5px;background:#b8b8c0"></div><div class="a" style="left:290px;top:91.8px;width:8px;height:1.5px;background:#b8b8c0"></div><div class="a" style="left:315px;top:91.8px;width:7px;height:1.5px;background:#b8b8c0"></div><div class="a" style="left:266px;top:96.4px;width:70px;height:.8px;background:#cfcfd4"></div><div class="a" style="left:268px;top:98.9px;width:14px;height:1.5px;background:#b8b8c0"></div><div class="a" style="left:290px;top:98.9px;width:8px;height:1.5px;background:#b8b8c0"></div><div class="a" style="left:315px;top:98.9px;width:7px;height:1.5px;background:#b8b8c0"></div><div class="a" style="left:266px;top:103.4px;width:70px;height:.8px;background:#cfcfd4"></div><div class="a" style="left:268px;top:105.9px;width:14px;height:1.5px;background:#b8b8c0"></div><div class="a" style="left:290px;top:105.9px;width:8px;height:1.5px;background:#b8b8c0"></div><div class="a" style="left:315px;top:105.9px;width:7px;height:1.5px;background:#b8b8c0"></div><div class="a" style="left:266px;top:110.5px;width:70px;height:.8px;background:#cfcfd4"></div><div class="a" style="left:268px;top:113.0px;width:14px;height:1.5px;background:#b8b8c0"></div><div class="a" style="left:290px;top:113.0px;width:8px;height:1.5px;background:#b8b8c0"></div><div class="a" style="left:315px;top:113.0px;width:7px;height:1.5px;background:#b8b8c0"></div><div class="a" style="left:266px;top:117.5px;width:70px;height:.8px;background:#cfcfd4"></div><div class="a" style="left:268px;top:120.0px;width:14px;height:1.5px;background:#b8b8c0"></div><div class="a" style="left:290px;top:120.0px;width:8px;height:1.5px;background:#b8b8c0"></div><div class="a" style="left:315px;top:120.0px;width:7px;height:1.5px;background:#b8b8c0"></div><div class="a" style="left:266px;top:124.6px;width:70px;height:.8px;background:#cfcfd4"></div><div class="a" style="left:268px;top:127.1px;width:14px;height:1.5px;background:#b8b8c0"></div><div class="a" style="left:290px;top:127.1px;width:8px;height:1.5px;background:#b8b8c0"></div><div class="a" style="left:315px;top:127.1px;width:7px;height:1.5px;background:#b8b8c0"></div><div class="a" style="left:266px;top:131.6px;width:70px;height:.8px;background:#cfcfd4"></div><div class="a" style="left:268px;top:134.1px;width:14px;height:1.5px;background:#b8b8c0"></div><div class="a" style="left:290px;top:134.1px;width:8px;height:1.5px;background:#b8b8c0"></div><div class="a" style="left:315px;top:134.1px;width:7px;height:1.5px;background:#b8b8c0"></div><div class="a" style="left:266px;top:138.7px;width:70px;height:.8px;background:#cfcfd4"></div><div class="a" style="left:268px;top:141.2px;width:14px;height:1.5px;background:#b8b8c0"></div><div class="a" style="left:290px;top:141.2px;width:8px;height:1.5px;background:#b8b8c0"></div><div class="a" style="left:315px;top:141.2px;width:7px;height:1.5px;background:#b8b8c0"></div><div class="a" style="left:266px;top:145.8px;width:70px;height:.8px;background:#cfcfd4"></div><div class="a" style="left:268px;top:148.2px;width:14px;height:1.5px;background:#b8b8c0"></div><div class="a" style="left:290px;top:148.2px;width:8px;height:1.5px;background:#b8b8c0"></div><div class="a" style="left:315px;top:148.2px;width:7px;height:1.5px;background:#b8b8c0"></div><div class="a" style="left:266px;top:152.8px;width:70px;height:.8px;background:#cfcfd4"></div><div class="a" style="left:268px;top:155.3px;width:14px;height:1.5px;background:#b8b8c0"></div><div class="a" style="left:290px;top:155.3px;width:8px;height:1.5px;background:#b8b8c0"></div><div class="a" style="left:315px;top:155.3px;width:7px;height:1.5px;background:#b8b8c0"></div><div class="a" style="left:266px;top:159.8px;width:70px;height:.8px;background:#cfcfd4"></div><div class="a" style="left:268px;top:162.3px;width:14px;height:1.5px;background:#b8b8c0"></div><div class="a" style="left:290px;top:162.3px;width:8px;height:1.5px;background:#b8b8c0"></div><div class="a" style="left:315px;top:162.3px;width:7px;height:1.5px;background:#b8b8c0"></div><div class="a" style="left:266px;top:166.9px;width:70px;height:.8px;background:#cfcfd4"></div><div class="a" style="left:268px;top:169.4px;width:14px;height:1.5px;background:#b8b8c0"></div><div class="a" style="left:290px;top:169.4px;width:8px;height:1.5px;background:#b8b8c0"></div><div class="a" style="left:315px;top:169.4px;width:7px;height:1.5px;background:#b8b8c0"></div><div class="a" style="left:266px;top:173.9px;width:70px;height:.8px;background:#cfcfd4"></div><div class="a" style="left:268px;top:176.4px;width:14px;height:1.5px;background:#b8b8c0"></div><div class="a" style="left:290px;top:176.4px;width:8px;height:1.5px;background:#b8b8c0"></div><div class="a" style="left:315px;top:176.4px;width:7px;height:1.5px;background:#b8b8c0"></div><div class="a" style="left:266px;top:181.0px;width:70px;height:.8px;background:#cfcfd4"></div><div class="a" style="left:268px;top:183.5px;width:14px;height:1.5px;background:#b8b8c0"></div><div class="a" style="left:290px;top:183.5px;width:8px;height:1.5px;background:#b8b8c0"></div><div class="a" style="left:315px;top:183.5px;width:7px;height:1.5px;background:#b8b8c0"></div><div class="a" style="left:266px;top:188.0px;width:70px;height:.8px;background:#cfcfd4"></div><div class="a" style="left:268px;top:190.5px;width:14px;height:1.5px;background:#b8b8c0"></div><div class="a" style="left:290px;top:190.5px;width:8px;height:1.5px;background:#b8b8c0"></div><div class="a" style="left:315px;top:190.5px;width:7px;height:1.5px;background:#b8b8c0"></div><div class="a" style="left:266px;top:195.1px;width:70px;height:.8px;background:#cfcfd4"></div><div class="a" style="left:268px;top:197.6px;width:14px;height:1.5px;background:#b8b8c0"></div><div class="a" style="left:290px;top:197.6px;width:8px;height:1.5px;background:#b8b8c0"></div><div class="a" style="left:315px;top:197.6px;width:7px;height:1.5px;background:#b8b8c0"></div><div class="a" style="left:266px;top:202.2px;width:70px;height:.8px;background:#cfcfd4"></div><div class="a" style="left:268px;top:204.7px;width:14px;height:1.5px;background:#b8b8c0"></div><div class="a" style="left:290px;top:204.7px;width:8px;height:1.5px;background:#b8b8c0"></div><div class="a" style="left:315px;top:204.7px;width:7px;height:1.5px;background:#b8b8c0"></div><div class="a" style="left:8.5px;top:207.4px;width:331px;height:28px;background:#e4e4e4"></div><div class="a" style="left:22px;top:218px;width:8px;height:3px;background:#4a90d8"></div><div class="a" style="left:68px;top:217px;width:80px;height:5px;background:#efefef;border:1px solid #d0d0d0"></div><div class="a" style="left:160px;top:215px;width:22px;height:6px;border:1px solid #b8b8b8;background:#ececec"></div><div class="a" style="left:185px;top:215px;width:22px;height:6px;border:1px solid #b8b8b8;background:#ececec"></div><div class="a" style="left:210px;top:215px;width:22px;height:6px;border:1px solid #b8b8b8;background:#ececec"></div><div class="a" style="left:236px;top:215px;width:22px;height:6px;border:1px solid #b8b8b8;background:#ececec"></div><div class="a" style="left:262px;top:215px;width:22px;height:6px;border:1px solid #b8b8b8;background:#ececec"></div>
</div></div>
<div class="a" style="left:77.8px;top:880px;width:267.5px;height:193.6px;overflow:hidden;background:linear-gradient(100deg,#06803c 0%,#0a9245 22%,#078a40 45%,#05863e 70%,#047535 100%)"><div class="a" style="left:-40px;top:-40px;width:200px;height:280px;background:radial-gradient(ellipse at 50% 50%,rgba(20,190,90,.30),rgba(20,190,90,0) 65%)"></div><div class="a" style="left:120px;top:-30px;width:180px;height:80px;background:radial-gradient(ellipse at 50% 50%,rgba(10,175,85,.45),rgba(10,175,85,0) 70%)"></div><div class="a" style="left:160px;top:120px;width:140px;height:100px;background:radial-gradient(ellipse at 60% 60%,rgba(0,60,25,.35),rgba(0,60,25,0) 70%)"></div><div class="a" style="left:43px;top:-2px;width:16px;height:34px;background:linear-gradient(90deg,#0c0f0e,#3a3c3c 40%,#101312);border-radius:2px"></div><div class="a" style="left:20px;top:25px;width:222px;height:9px;background:#a9a7a0;clip-path:polygon(8% 0,86% 0,100% 100%,0 100%)"></div><div class="a" style="left:40px;top:27.5px;width:180px;height:3px;background:repeating-linear-gradient(90deg,#3a3a38 0 2.5px,transparent 2.5px 7.5px)"></div><div class="a" style="left:11px;top:32px;width:250px;height:138px;background:#c7beb8;clip-path:polygon(0 0,100% 0,96.2% 100%,4% 100%)"></div><div class="a" style="left:15.5px;top:37px;width:239px;height:129px;background:linear-gradient(180deg,#5e6065,#595b60 60%,#56585c);clip-path:polygon(0 0,100% 0,96.8% 100%,3.5% 100%)"></div><div class="a" style="left:33px;top:44px;font-size:8.5px;line-height:1;color:#1c1d22;white-space:nowrap;letter-spacing:-.3px">SNT-R2400AY智能温度监测仪</div><div class="a" style="left:35px;top:62px;width:114px;height:64px;background:#45474d"></div><div class="a" style="left:38px;top:64.7px;width:108px;height:58px;background:linear-gradient(180deg,#2456ee,#1d48e0)"></div><div class="a" style="left:43px;top:69.0px;font-size:11px;line-height:1;font-weight:bold;color:#e8eefc;white-space:nowrap;font-family:'Liberation Mono',monospace;letter-spacing:-.4px">AЯ1:18&nbsp;&nbsp;AЯ2:</div><div class="a" style="left:43px;top:81.8px;font-size:9.5px;line-height:1;font-weight:bold;color:#e8eefc;white-space:nowrap;font-family:'Liberation Mono',monospace;letter-spacing:-.4px">AЯ3:&nbsp;&nbsp;&nbsp;&nbsp;&nbsp;AЯ4:</div><div class="a" style="left:43px;top:94.6px;font-size:9.5px;line-height:1;font-weight:bold;color:#e8eefc;white-space:nowrap;font-family:'Liberation Mono',monospace;letter-spacing:-.4px">AЯ5:&nbsp;&nbsp;&nbsp;&nbsp;&nbsp;AЯ6:</div><div class="a" style="left:43px;top:108.4px;font-size:11px;line-height:1;font-weight:bold;color:#e8eefc;white-space:nowrap;font-family:'Liberation Mono',monospace;letter-spacing:-.4px">2019-11-18 16:46</div><div class="a" style="left:166.0px;top:51.0px;width:12.5px;height:11.5px;border-radius:2px;background:linear-gradient(180deg,#36aed2,#2590b6);box-shadow:0 1px 0 #20506a"></div><div class="a" style="left:166.0px;top:53.2px;width:12.5px;text-align:center;font-size:6.5px;line-height:1;color:#11506a">1</div><div class="a" style="left:184.3px;top:51.0px;width:12.5px;height:11.5px;border-radius:2px;background:linear-gradient(180deg,#36aed2,#2590b6);box-shadow:0 1px 0 #20506a"></div><div class="a" style="left:184.3px;top:53.2px;width:12.5px;text-align:center;font-size:6.5px;line-height:1;color:#11506a">2</div><div class="a" style="left:202.6px;top:51.0px;width:12.5px;height:11.5px;border-radius:2px;background:linear-gradient(180deg,#36aed2,#2590b6);box-shadow:0 1px 0 #20506a"></div><div class="a" style="left:202.6px;top:53.2px;width:12.5px;text-align:center;font-size:6.5px;line-height:1;color:#11506a">3</div><div class="a" style="left:220.9px;top:51.0px;width:12.5px;height:11.5px;border-radius:2px;background:linear-gradient(180deg,#36aed2,#2590b6);box-shadow:0 1px 0 #20506a"></div><div class="a" style="left:220.9px;top:53.2px;width:12.5px;text-align:center;font-size:5.5px;line-height:1;color:#11506a">确</div><div class="a" style="left:165.4px;top:67.3px;width:12.5px;height:11.5px;border-radius:2px;background:linear-gradient(180deg,#36aed2,#2590b6);box-shadow:0 1px 0 #20506a"></div><div class="a" style="left:165.4px;top:69.5px;width:12.5px;text-align:center;font-size:6.5px;line-height:1;color:#11506a">4</div><div class="a" style="left:183.7px;top:67.3px;width:12.5px;height:11.5px;border-radius:2px;background:linear-gradient(180deg,#36aed2,#2590b6);box-shadow:0 1px 0 #20506a"></div><div class="a" style="left:183.7px;top:69.5px;width:12.5px;text-align:center;font-size:6.5px;line-height:1;color:#11506a">5</div><div class="a" style="left:202.0px;top:67.3px;width:12.5px;height:11.5px;border-radius:2px;background:linear-gradient(180deg,#36aed2,#2590b6);box-shadow:0 1px 0 #20506a"></div><div class="a" style="left:202.0px;top:69.5px;width:12.5px;text-align:center;font-size:6.5px;line-height:1;color:#11506a">6</div><div class="a" style="left:220.3px;top:67.3px;width:12.5px;height:11.5px;border-radius:2px;background:linear-gradient(180deg,#36aed2,#2590b6);box-shadow:0 1px 0 #20506a"></div><div class="a" style="left:220.3px;top:69.5px;width:12.5px;text-align:center;font-size:5.5px;line-height:1;color:#11506a">↑</div><div class="a" style="left:164.8px;top:83.6px;width:12.5px;height:11.5px;border-radius:2px;background:linear-gradient(180deg,#36aed2,#2590b6);box-shadow:0 1px 0 #20506a"></div><div class="a" style="left:164.8px;top:85.8px;width:12.5px;text-align:center;font-size:6.5px;line-height:1;color:#11506a">7</div><div class="a" style="left:183.1px;top:83.6px;width:12.5px;height:11.5px;border-radius:2px;background:linear-gradient(180deg,#36aed2,#2590b6);box-shadow:0 1px 0 #20506a"></div><div class="a" style="left:183.1px;top:85.8px;width:12.5px;text-align:center;font-size:6.5px;line-height:1;color:#11506a">8</div><div class="a" style="left:201.4px;top:83.6px;width:12.5px;height:11.5px;border-radius:2px;background:linear-gradient(180deg,#36aed2,#2590b6);box-shadow:0 1px 0 #20506a"></div><div class="a" style="left:201.4px;top:85.8px;width:12.5px;text-align:center;font-size:6.5px;line-height:1;color:#11506a">9</div><div class="a" style="left:219.7px;top:83.6px;width:12.5px;height:11.5px;border-radius:2px;background:linear-gradient(180deg,#36aed2,#2590b6);box-shadow:0 1px 0 #20506a"></div><div class="a" style="left:219.7px;top:85.8px;width:12.5px;text-align:center;font-size:5.5px;line-height:1;color:#11506a">↓</div><div class="a" style="left:164.2px;top:99.9px;width:12.5px;height:11.5px;border-radius:2px;background:linear-gradient(180deg,#36aed2,#2590b6);box-shadow:0 1px 0 #20506a"></div><div class="a" style="left:164.2px;top:102.1px;width:12.5px;text-align:center;font-size:6.5px;line-height:1;color:#11506a">.</div><div class="a" style="left:182.5px;top:99.9px;width:12.5px;height:11.5px;border-radius:2px;background:linear-gradient(180deg,#36aed2,#2590b6);box-shadow:0 1px 0 #20506a"></div><div class="a" style="left:182.5px;top:102.1px;width:12.5px;text-align:center;font-size:6.5px;line-height:1;color:#11506a">0</div><div class="a" style="left:200.8px;top:99.9px;width:12.5px;height:11.5px;border-radius:2px;background:linear-gradient(180deg,#36aed2,#2590b6);box-shadow:0 1px 0 #20506a"></div><div class="a" style="left:200.8px;top:102.1px;width:12.5px;text-align:center;font-size:6.5px;line-height:1;color:#11506a">设</div><div class="a" style="left:219.1px;top:99.9px;width:12.5px;height:11.5px;border-radius:2px;background:linear-gradient(180deg,#36aed2,#2590b6);box-shadow:0 1px 0 #20506a"></div><div class="a" style="left:219.1px;top:102.1px;width:12.5px;text-align:center;font-size:5.5px;line-height:1;color:#11506a">返</div><div class="a" style="left:208.5px;top:145.5px;width:15.5px;height:15.5px;border-radius:50%;background:radial-gradient(circle at 45% 40%,#ff3a2a,#d00a0a 60%,#a00808)"></div><div class="a" style="left:77px;top:154.5px;font-size:7.6px;line-height:1;color:#1c1d22;white-space:nowrap;letter-spacing:.4px;font-weight:bold">泰安斯瑞特自动化设备有限公司</div><div class="a" style="left:248px;top:140px;width:22px;height:3px;background:#1a2a3a;transform:rotate(-55deg);transform-origin:0 0"></div></div>
<div class="a" style="left:356px;top:860px;width:217.7px;height:233.3px;overflow:hidden;background:linear-gradient(180deg,#e2e4e8 0%,#d9dbe0 60%,#cfd0d2 78%,#c8b89c 90%,#cdb898 100%)"><div class="a" style="left:195px;top:60px;width:25px;height:140px;background:linear-gradient(180deg,#d6d8dc,#c8c9cc)"></div><div class="a" style="left:7.5px;top:13px;width:206px;height:216px;background:#8d9092;border:2px solid #3c3f42;box-sizing:border-box;clip-path:polygon(1% 0,100% 1%,99.5% 100%,0 99%)"></div><div class="a" style="left:12px;top:18px;width:197px;height:206px;background:#b9bcbe"></div><div class="a" style="left:22px;top:23px;width:178px;height:196px;background:#c9ccce"></div><div class="a" style="left:14px;top:30px;width:4px;height:190px;background:#55585a;opacity:.7"></div><div class="a" style="left:201px;top:40px;width:5px;height:175px;background:#585b5d;opacity:.7"></div><div class="a" style="left:197px;top:38px;width:6px;height:22px;background:#3a3c3e"></div><div class="a" style="left:190px;top:190px;width:6px;height:22px;background:#3a3c3e"></div><div class="a" style="left:6px;top:40px;width:8px;height:28px;background:#dcdcdc;border:1px solid #999"></div><div class="a" style="left:206px;top:42px;width:8px;height:26px;background:#dcdcdc;border:1px solid #999"></div><div class="a" style="left:55px;top:8px;width:3px;height:6px;background:#3a3226"></div><div class="a" style="left:73px;top:8px;width:3px;height:6px;background:#3a3226"></div><div class="a" style="left:91px;top:8px;width:3px;height:6px;background:#3a3226"></div><div class="a" style="left:109px;top:8px;width:3px;height:6px;background:#3a3226"></div><div class="a" style="left:127px;top:8px;width:3px;height:6px;background:#3a3226"></div><div class="a" style="left:145px;top:8px;width:3px;height:6px;background:#3a3226"></div><div class="a" style="left:163px;top:8px;width:3px;height:6px;background:#3a3226"></div><div class="a" style="left:61px;top:32.8px;width:106.4px;height:55.6px;background:#d6d2c6"></div><div class="a" style="left:63px;top:34.8px;width:102.4px;height:51.6px;background:#9fa19c"></div><div class="a" style="left:72px;top:45.3px;width:47px;height:22px;background:#4a5886"></div><div class="a" style="left:127.0px;top:41.8px;width:5px;height:4.2px;background:#62c6dc"></div><div class="a" style="left:134.5px;top:41.8px;width:5px;height:4.2px;background:#62c6dc"></div><div class="a" style="left:142.0px;top:41.8px;width:5px;height:4.2px;background:#62c6dc"></div><div class="a" style="left:149.5px;top:41.8px;width:5px;height:4.2px;background:#62c6dc"></div><div class="a" style="left:127.0px;top:48.0px;width:5px;height:4.2px;background:#62c6dc"></div><div class="a" style="left:134.5px;top:48.0px;width:5px;height:4.2px;background:#62c6dc"></div><div class="a" style="left:142.0px;top:48.0px;width:5px;height:4.2px;background:#62c6dc"></div><div class="a" style="left:149.5px;top:48.0px;width:5px;height:4.2px;background:#62c6dc"></div><div class="a" style="left:127.0px;top:54.2px;width:5px;height:4.2px;background:#62c6dc"></div><div class="a" style="left:134.5px;top:54.2px;width:5px;height:4.2px;background:#62c6dc"></div><div class="a" style="left:142.0px;top:54.2px;width:5px;height:4.2px;background:#62c6dc"></div><div class="a" style="left:149.5px;top:54.2px;width:5px;height:4.2px;background:#62c6dc"></div><div class="a" style="left:127.0px;top:60.4px;width:5px;height:4.2px;background:#62c6dc"></div><div class="a" style="left:134.5px;top:60.4px;width:5px;height:4.2px;background:#62c6dc"></div><div class="a" style="left:142.0px;top:60.4px;width:5px;height:4.2px;background:#62c6dc"></div><div class="a" style="left:149.5px;top:60.4px;width:5px;height:4.2px;background:#62c6dc"></div><div class="a" style="left:144px;top:75.8px;width:6px;height:6px;border-radius:50%;background:#e0182a"></div><div class="a" style="left:81px;top:78.8px;width:58px;height:2px;background:#555a5c"></div><div class="a" style="left:71px;top:37.8px;width:45px;height:1.5px;background:#6a6d6e"></div><div class="a" style="left:59.6px;top:95px;width:105px;height:56px;background:#d6d2c6"></div><div class="a" style="left:61.6px;top:97px;width:101px;height:52px;background:#9fa19c"></div><div class="a" style="left:70.6px;top:107.5px;width:47px;height:22px;background:#16192e"></div><div class="a" style="left:125.6px;top:104.0px;width:5px;height:4.2px;background:#62c6dc"></div><div class="a" style="left:133.1px;top:104.0px;width:5px;height:4.2px;background:#62c6dc"></div><div class="a" style="left:140.6px;top:104.0px;width:5px;height:4.2px;background:#62c6dc"></div><div class="a" style="left:148.1px;top:104.0px;width:5px;height:4.2px;background:#62c6dc"></div><div class="a" style="left:125.6px;top:110.2px;width:5px;height:4.2px;background:#62c6dc"></div><div class="a" style="left:133.1px;top:110.2px;width:5px;height:4.2px;background:#62c6dc"></div><div class="a" style="left:140.6px;top:110.2px;width:5px;height:4.2px;background:#62c6dc"></div><div class="a" style="left:148.1px;top:110.2px;width:5px;height:4.2px;background:#62c6dc"></div><div class="a" style="left:125.6px;top:116.4px;width:5px;height:4.2px;background:#62c6dc"></div><div class="a" style="left:133.1px;top:116.4px;width:5px;height:4.2px;background:#62c6dc"></div><div class="a" style="left:140.6px;top:116.4px;width:5px;height:4.2px;background:#62c6dc"></div><div class="a" style="left:148.1px;top:116.4px;width:5px;height:4.2px;background:#62c6dc"></div><div class="a" style="left:125.6px;top:122.6px;width:5px;height:4.2px;background:#62c6dc"></div><div class="a" style="left:133.1px;top:122.6px;width:5px;height:4.2px;background:#62c6dc"></div><div class="a" style="left:140.6px;top:122.6px;width:5px;height:4.2px;background:#62c6dc"></div><div class="a" style="left:148.1px;top:122.6px;width:5px;height:4.2px;background:#62c6dc"></div><div class="a" style="left:142.6px;top:138px;width:6px;height:6px;border-radius:50%;background:#e0182a"></div><div class="a" style="left:79.6px;top:141px;width:58px;height:2px;background:#555a5c"></div><div class="a" style="left:69.6px;top:100px;width:45px;height:1.5px;background:#6a6d6e"></div><div class="a" style="left:59px;top:157.6px;width:104px;height:54.4px;background:#d6d2c6"></div><div class="a" style="left:61px;top:159.6px;width:100px;height:50.4px;background:#9fa19c"></div><div class="a" style="left:70px;top:170.1px;width:47px;height:22px;background:#16192e"></div><div class="a" style="left:125.0px;top:166.6px;width:5px;height:4.2px;background:#62c6dc"></div><div class="a" style="left:132.5px;top:166.6px;width:5px;height:4.2px;background:#62c6dc"></div><div class="a" style="left:140.0px;top:166.6px;width:5px;height:4.2px;background:#62c6dc"></div><div class="a" style="left:147.5px;top:166.6px;width:5px;height:4.2px;background:#62c6dc"></div><div class="a" style="left:125.0px;top:172.8px;width:5px;height:4.2px;background:#62c6dc"></div><div class="a" style="left:132.5px;top:172.8px;width:5px;height:4.2px;background:#62c6dc"></div><div class="a" style="left:140.0px;top:172.8px;width:5px;height:4.2px;background:#62c6dc"></div><div class="a" style="left:147.5px;top:172.8px;width:5px;height:4.2px;background:#62c6dc"></div><div class="a" style="left:125.0px;top:179.0px;width:5px;height:4.2px;background:#62c6dc"></div><div class="a" style="left:132.5px;top:179.0px;width:5px;height:4.2px;background:#62c6dc"></div><div class="a" style="left:140.0px;top:179.0px;width:5px;height:4.2px;background:#62c6dc"></div><div class="a" style="left:147.5px;top:179.0px;width:5px;height:4.2px;background:#62c6dc"></div><div class="a" style="left:125.0px;top:185.2px;width:5px;height:4.2px;background:#62c6dc"></div><div class="a" style="left:132.5px;top:185.2px;width:5px;height:4.2px;background:#62c6dc"></div><div class="a" style="left:140.0px;top:185.2px;width:5px;height:4.2px;background:#62c6dc"></div><div class="a" style="left:147.5px;top:185.2px;width:5px;height:4.2px;background:#62c6dc"></div><div class="a" style="left:142px;top:200.6px;width:6px;height:6px;border-radius:50%;background:#e0182a"></div><div class="a" style="left:79px;top:203.6px;width:58px;height:2px;background:#555a5c"></div><div class="a" style="left:69px;top:162.6px;width:45px;height:1.5px;background:#6a6d6e"></div><div class="a" style="left:70px;top:60px;width:90px;height:70px;border-radius:50%;background:radial-gradient(ellipse,rgba(60,62,60,.28),rgba(60,62,60,0) 70%)"></div><div class="a" style="left:176.6px;top:36.4px;width:16.4px;height:17px;background:#e8d838"></div><div class="a" style="left:169.5px;top:200px;width:19px;height:12px;background:#e8d028"></div></div>
<div class="a" style="left:1054.2px;top:881px;width:266.7px;height:194px;overflow:hidden;background:linear-gradient(100deg,#06803c 0%,#0a9245 22%,#078a40 45%,#05863e 70%,#047535 100%)"><div class="a" style="left:-40px;top:-40px;width:200px;height:280px;background:radial-gradient(ellipse at 50% 50%,rgba(20,190,90,.30),rgba(20,190,90,0) 65%)"></div><div class="a" style="left:120px;top:-30px;width:180px;height:80px;background:radial-gradient(ellipse at 50% 50%,rgba(10,175,85,.45),rgba(10,175,85,0) 70%)"></div><div class="a" style="left:160px;top:120px;width:140px;height:100px;background:radial-gradient(ellipse at 60% 60%,rgba(0,60,25,.35),rgba(0,60,25,0) 70%)"></div><div class="a" style="left:43px;top:-2px;width:16px;height:34px;background:linear-gradient(90deg,#0c0f0e,#3a3c3c 40%,#101312);border-radius:2px"></div><div class="a" style="left:20px;top:25px;width:222px;height:9px;background:#a9a7a0;clip-path:polygon(8% 0,86% 0,100% 100%,0 100%)"></div><div class="a" style="left:40px;top:27.5px;width:180px;height:3px;background:repeating-linear-gradient(90deg,#3a3a38 0 2.5px,transparent 2.5px 7.5px)"></div><div class="a" style="left:11px;top:32px;width:250px;height:138px;background:#c7beb8;clip-path:polygon(0 0,100% 0,96.2% 100%,4% 100%)"></div><div class="a" style="left:15.5px;top:37px;width:239px;height:129px;background:linear-gradient(180deg,#5e6065,#595b60 60%,#56585c);clip-path:polygon(0 0,100% 0,96.8% 100%,3.5% 100%)"></div><div class="a" style="left:33px;top:44px;font-size:8.5px;line-height:1;color:#1c1d22;white-space:nowrap;letter-spacing:-.3px">SNT-R2400AY智能温度监测仪</div><div class="a" style="left:35px;top:62px;width:114px;height:64px;background:#45474d"></div><div class="a" style="left:38px;top:64.7px;width:108px;height:58px;background:linear-gradient(180deg,#2456ee,#1d48e0)"></div><div class="a" style="left:43px;top:69.0px;font-size:11px;line-height:1;font-weight:bold;color:#e8eefc;white-space:nowrap;font-family:'Liberation Mono',monospace;letter-spacing:-.4px">AЯ1:18&nbsp;&nbsp;AЯ2:</div><div class="a" style="left:43px;top:81.8px;font-size:9.5px;line-height:1;font-weight:bold;color:#e8eefc;white-space:nowrap;font-family:'Liberation Mono',monospace;letter-spacing:-.4px">AЯ3:&nbsp;&nbsp;&nbsp;&nbsp;&nbsp;AЯ4:</div><div class="a" style="left:43px;top:94.6px;font-size:9.5px;line-height:1;font-weight:bold;color:#e8eefc;white-space:nowrap;font-family:'Liberation Mono',monospace;letter-spacing:-.4px">AЯ5:&nbsp;&nbsp;&nbsp;&nbsp;&nbsp;AЯ6:</div><div class="a" style="left:43px;top:108.4px;font-size:11px;line-height:1;font-weight:bold;color:#e8eefc;white-space:nowrap;font-family:'Liberation Mono',monospace;letter-spacing:-.4px">2019-11-18 16:46</div><div class="a" style="left:166.0px;top:51.0px;width:12.5px;height:11.5px;border-radius:2px;background:linear-gradient(180deg,#36aed2,#2590b6);box-shadow:0 1px 0 #20506a"></div><div class="a" style="left:166.0px;top:53.2px;width:12.5px;text-align:center;font-size:6.5px;line-height:1;color:#11506a">1</div><div class="a" style="left:184.3px;top:51.0px;width:12.5px;height:11.5px;border-radius:2px;background:linear-gradient(180deg,#36aed2,#2590b6);box-shadow:0 1px 0 #20506a"></div><div class="a" style="left:184.3px;top:53.2px;width:12.5px;text-align:center;font-size:6.5px;line-height:1;color:#11506a">2</div><div class="a" style="left:202.6px;top:51.0px;width:12.5px;height:11.5px;border-radius:2px;background:linear-gradient(180deg,#36aed2,#2590b6);box-shadow:0 1px 0 #20506a"></div><div class="a" style="left:202.6px;top:53.2px;width:12.5px;text-align:center;font-size:6.5px;line-height:1;color:#11506a">3</div><div class="a" style="left:220.9px;top:51.0px;width:12.5px;height:11.5px;border-radius:2px;background:linear-gradient(180deg,#36aed2,#2590b6);box-shadow:0 1px 0 #20506a"></div><div class="a" style="left:220.9px;top:53.2px;width:12.5px;text-align:center;font-size:5.5px;line-height:1;color:#11506a">确</div><div class="a" style="left:165.4px;top:67.3px;width:12.5px;height:11.5px;border-radius:2px;background:linear-gradient(180deg,#36aed2,#2590b6);box-shadow:0 1px 0 #20506a"></div><div class="a" style="left:165.4px;top:69.5px;width:12.5px;text-align:center;font-size:6.5px;line-height:1;color:#11506a">4</div><div class="a" style="left:183.7px;top:67.3px;width:12.5px;height:11.5px;border-radius:2px;background:linear-gradient(180deg,#36aed2,#2590b6);box-shadow:0 1px 0 #20506a"></div><div class="a" style="left:183.7px;top:69.5px;width:12.5px;text-align:center;font-size:6.5px;line-height:1;color:#11506a">5</div><div class="a" style="left:202.0px;top:67.3px;width:12.5px;height:11.5px;border-radius:2px;background:linear-gradient(180deg,#36aed2,#2590b6);box-shadow:0 1px 0 #20506a"></div><div class="a" style="left:202.0px;top:69.5px;width:12.5px;text-align:center;font-size:6.5px;line-height:1;color:#11506a">6</div><div class="a" style="left:220.3px;top:67.3px;width:12.5px;height:11.5px;border-radius:2px;background:linear-gradient(180deg,#36aed2,#2590b6);box-shadow:0 1px 0 #20506a"></div><div class="a" style="left:220.3px;top:69.5px;width:12.5px;text-align:center;font-size:5.5px;line-height:1;color:#11506a">↑</div><div class="a" style="left:164.8px;top:83.6px;width:12.5px;height:11.5px;border-radius:2px;background:linear-gradient(180deg,#36aed2,#2590b6);box-shadow:0 1px 0 #20506a"></div><div class="a" style="left:164.8px;top:85.8px;width:12.5px;text-align:center;font-size:6.5px;line-height:1;color:#11506a">7</div><div class="a" style="left:183.1px;top:83.6px;width:12.5px;height:11.5px;border-radius:2px;background:linear-gradient(180deg,#36aed2,#2590b6);box-shadow:0 1px 0 #20506a"></div><div class="a" style="left:183.1px;top:85.8px;width:12.5px;text-align:center;font-size:6.5px;line-height:1;color:#11506a">8</div><div class="a" style="left:201.4px;top:83.6px;width:12.5px;height:11.5px;border-radius:2px;background:linear-gradient(180deg,#36aed2,#2590b6);box-shadow:0 1px 0 #20506a"></div><div class="a" style="left:201.4px;top:85.8px;width:12.5px;text-align:center;font-size:6.5px;line-height:1;color:#11506a">9</div><div class="a" style="left:219.7px;top:83.6px;width:12.5px;height:11.5px;border-radius:2px;background:linear-gradient(180deg,#36aed2,#2590b6);box-shadow:0 1px 0 #20506a"></div><div class="a" style="left:219.7px;top:85.8px;width:12.5px;text-align:center;font-size:5.5px;line-height:1;color:#11506a">↓</div><div class="a" style="left:164.2px;top:99.9px;width:12.5px;height:11.5px;border-radius:2px;background:linear-gradient(180deg,#36aed2,#2590b6);box-shadow:0 1px 0 #20506a"></div><div class="a" style="left:164.2px;top:102.1px;width:12.5px;text-align:center;font-size:6.5px;line-height:1;color:#11506a">.</div><div class="a" style="left:182.5px;top:99.9px;width:12.5px;height:11.5px;border-radius:2px;background:linear-gradient(180deg,#36aed2,#2590b6);box-shadow:0 1px 0 #20506a"></div><div class="a" style="left:182.5px;top:102.1px;width:12.5px;text-align:center;font-size:6.5px;line-height:1;color:#11506a">0</div><div class="a" style="left:200.8px;top:99.9px;width:12.5px;height:11.5px;border-radius:2px;background:linear-gradient(180deg,#36aed2,#2590b6);box-shadow:0 1px 0 #20506a"></div><div class="a" style="left:200.8px;top:102.1px;width:12.5px;text-align:center;font-size:6.5px;line-height:1;color:#11506a">设</div><div class="a" style="left:219.1px;top:99.9px;width:12.5px;height:11.5px;border-radius:2px;background:linear-gradient(180deg,#36aed2,#2590b6);box-shadow:0 1px 0 #20506a"></div><div class="a" style="left:219.1px;top:102.1px;width:12.5px;text-align:center;font-size:5.5px;line-height:1;color:#11506a">返</div><div class="a" style="left:208.5px;top:145.5px;width:15.5px;height:15.5px;border-radius:50%;background:radial-gradient(circle at 45% 40%,#ff3a2a,#d00a0a 60%,#a00808)"></div><div class="a" style="left:77px;top:154.5px;font-size:7.6px;line-height:1;color:#1c1d22;white-space:nowrap;letter-spacing:.4px;font-weight:bold">泰安斯瑞特自动化设备有限公司</div><div class="a" style="left:248px;top:140px;width:22px;height:3px;background:#1a2a3a;transform:rotate(-55deg);transform-origin:0 0"></div></div>
<div class="a" style="left:1333.2px;top:857px;width:217.8px;height:233.5px;overflow:hidden;background:linear-gradient(180deg,#e2e4e8 0%,#d9dbe0 60%,#cfd0d2 78%,#c8b89c 90%,#cdb898 100%)"><div class="a" style="left:195px;top:60px;width:25px;height:140px;background:linear-gradient(180deg,#d6d8dc,#c8c9cc)"></div><div class="a" style="left:7.5px;top:13px;width:206px;height:216px;background:#8d9092;border:2px solid #3c3f42;box-sizing:border-box;clip-path:polygon(1% 0,100% 1%,99.5% 100%,0 99%)"></div><div class="a" style="left:12px;top:18px;width:197px;height:206px;background:#b9bcbe"></div><div class="a" style="left:22px;top:23px;width:178px;height:196px;background:#c9ccce"></div><div class="a" style="left:14px;top:30px;width:4px;height:190px;background:#55585a;opacity:.7"></div><div class="a" style="left:201px;top:40px;width:5px;height:175px;background:#585b5d;opacity:.7"></div><div class="a" style="left:197px;top:38px;width:6px;height:22px;background:#3a3c3e"></div><div class="a" style="left:190px;top:190px;width:6px;height:22px;background:#3a3c3e"></div><div class="a" style="left:6px;top:40px;width:8px;height:28px;background:#dcdcdc;border:1px solid #999"></div><div class="a" style="left:206px;top:42px;width:8px;height:26px;background:#dcdcdc;border:1px solid #999"></div><div class="a" style="left:55px;top:8px;width:3px;height:6px;background:#3a3226"></div><div class="a" style="left:73px;top:8px;width:3px;height:6px;background:#3a3226"></div><div class="a" style="left:91px;top:8px;width:3px;height:6px;background:#3a3226"></div><div class="a" style="left:109px;top:8px;width:3px;height:6px;background:#3a3226"></div><div class="a" style="left:127px;top:8px;width:3px;height:6px;background:#3a3226"></div><div class="a" style="left:145px;top:8px;width:3px;height:6px;background:#3a3226"></div><div class="a" style="left:163px;top:8px;width:3px;height:6px;background:#3a3226"></div><div class="a" style="left:61px;top:32.8px;width:106.4px;height:55.6px;background:#d6d2c6"></div><div class="a" style="left:63px;top:34.8px;width:102.4px;height:51.6px;background:#9fa19c"></div><div class="a" style="left:72px;top:45.3px;width:47px;height:22px;background:#4a5886"></div><div class="a" style="left:127.0px;top:41.8px;width:5px;height:4.2px;background:#62c6dc"></div><div class="a" style="left:134.5px;top:41.8px;width:5px;height:4.2px;background:#62c6dc"></div><div class="a" style="left:142.0px;top:41.8px;width:5px;height:4.2px;background:#62c6dc"></div><div class="a" style="left:149.5px;top:41.8px;width:5px;height:4.2px;background:#62c6dc"></div><div class="a" style="left:127.0px;top:48.0px;width:5px;height:4.2px;background:#62c6dc"></div><div class="a" style="left:134.5px;top:48.0px;width:5px;height:4.2px;background:#62c6dc"></div><div class="a" style="left:142.0px;top:48.0px;width:5px;height:4.2px;background:#62c6dc"></div><div class="a" style="left:149.5px;top:48.0px;width:5px;height:4.2px;background:#62c6dc"></div><div class="a" style="left:127.0px;top:54.2px;width:5px;height:4.2px;background:#62c6dc"></div><div class="a" style="left:134.5px;top:54.2px;width:5px;height:4.2px;background:#62c6dc"></div><div class="a" style="left:142.0px;top:54.2px;width:5px;height:4.2px;background:#62c6dc"></div><div class="a" style="left:149.5px;top:54.2px;width:5px;height:4.2px;background:#62c6dc"></div><div class="a" style="left:127.0px;top:60.4px;width:5px;height:4.2px;background:#62c6dc"></div><div class="a" style="left:134.5px;top:60.4px;width:5px;height:4.2px;background:#62c6dc"></div><div class="a" style="left:142.0px;top:60.4px;width:5px;height:4.2px;background:#62c6dc"></div><div class="a" style="left:149.5px;top:60.4px;width:5px;height:4.2px;background:#62c6dc"></div><div class="a" style="left:144px;top:75.8px;width:6px;height:6px;border-radius:50%;background:#e0182a"></div><div class="a" style="left:81px;top:78.8px;width:58px;height:2px;background:#555a5c"></div><div class="a" style="left:71px;top:37.8px;width:45px;height:1.5px;background:#6a6d6e"></div><div class="a" style="left:59.6px;top:95px;width:105px;height:56px;background:#d6d2c6"></div><div class="a" style="left:61.6px;top:97px;width:101px;height:52px;background:#9fa19c"></div><div class="a" style="left:70.6px;top:107.5px;width:47px;height:22px;background:#16192e"></div><div class="a" style="left:125.6px;top:104.0px;width:5px;height:4.2px;background:#62c6dc"></div><div class="a" style="left:133.1px;top:104.0px;width:5px;height:4.2px;background:#62c6dc"></div><div class="a" style="left:140.6px;top:104.0px;width:5px;height:4.2px;background:#62c6dc"></div><div class="a" style="left:148.1px;top:104.0px;width:5px;height:4.2px;background:#62c6dc"></div><div class="a" style="left:125.6px;top:110.2px;width:5px;height:4.2px;background:#62c6dc"></div><div class="a" style="left:133.1px;top:110.2px;width:5px;height:4.2px;background:#62c6dc"></div><div class="a" style="left:140.6px;top:110.2px;width:5px;height:4.2px;background:#62c6dc"></div><div class="a" style="left:148.1px;top:110.2px;width:5px;height:4.2px;background:#62c6dc"></div><div class="a" style="left:125.6px;top:116.4px;width:5px;height:4.2px;background:#62c6dc"></div><div class="a" style="left:133.1px;top:116.4px;width:5px;height:4.2px;background:#62c6dc"></div><div class="a" style="left:140.6px;top:116.4px;width:5px;height:4.2px;background:#62c6dc"></div><div class="a" style="left:148.1px;top:116.4px;width:5px;height:4.2px;background:#62c6dc"></div><div class="a" style="left:125.6px;top:122.6px;width:5px;height:4.2px;background:#62c6dc"></div><div class="a" style="left:133.1px;top:122.6px;width:5px;height:4.2px;background:#62c6dc"></div><div class="a" style="left:140.6px;top:122.6px;width:5px;height:4.2px;background:#62c6dc"></div><div class="a" style="left:148.1px;top:122.6px;width:5px;height:4.2px;background:#62c6dc"></div><div class="a" style="left:142.6px;top:138px;width:6px;height:6px;border-radius:50%;background:#e0182a"></div><div class="a" style="left:79.6px;top:141px;width:58px;height:2px;background:#555a5c"></div><div class="a" style="left:69.6px;top:100px;width:45px;height:1.5px;background:#6a6d6e"></div><div class="a" style="left:59px;top:157.6px;width:104px;height:54.4px;background:#d6d2c6"></div><div class="a" style="left:61px;top:159.6px;width:100px;height:50.4px;background:#9fa19c"></div><div class="a" style="left:70px;top:170.1px;width:47px;height:22px;background:#16192e"></div><div class="a" style="left:125.0px;top:166.6px;width:5px;height:4.2px;background:#62c6dc"></div><div class="a" style="left:132.5px;top:166.6px;width:5px;height:4.2px;background:#62c6dc"></div><div class="a" style="left:140.0px;top:166.6px;width:5px;height:4.2px;background:#62c6dc"></div><div class="a" style="left:147.5px;top:166.6px;width:5px;height:4.2px;background:#62c6dc"></div><div class="a" style="left:125.0px;top:172.8px;width:5px;height:4.2px;background:#62c6dc"></div><div class="a" style="left:132.5px;top:172.8px;width:5px;height:4.2px;background:#62c6dc"></div><div class="a" style="left:140.0px;top:172.8px;width:5px;height:4.2px;background:#62c6dc"></div><div class="a" style="left:147.5px;top:172.8px;width:5px;height:4.2px;background:#62c6dc"></div><div class="a" style="left:125.0px;top:179.0px;width:5px;height:4.2px;background:#62c6dc"></div><div class="a" style="left:132.5px;top:179.0px;width:5px;height:4.2px;background:#62c6dc"></div><div class="a" style="left:140.0px;top:179.0px;width:5px;height:4.2px;background:#62c6dc"></div><div class="a" style="left:147.5px;top:179.0px;width:5px;height:4.2px;background:#62c6dc"></div><div class="a" style="left:125.0px;top:185.2px;width:5px;height:4.2px;background:#62c6dc"></div><div class="a" style="left:132.5px;top:185.2px;width:5px;height:4.2px;background:#62c6dc"></div><div class="a" style="left:140.0px;top:185.2px;width:5px;height:4.2px;background:#62c6dc"></div><div class="a" style="left:147.5px;top:185.2px;width:5px;height:4.2px;background:#62c6dc"></div><div class="a" style="left:142px;top:200.6px;width:6px;height:6px;border-radius:50%;background:#e0182a"></div><div class="a" style="left:79px;top:203.6px;width:58px;height:2px;background:#555a5c"></div><div class="a" style="left:69px;top:162.6px;width:45px;height:1.5px;background:#6a6d6e"></div><div class="a" style="left:70px;top:60px;width:90px;height:70px;border-radius:50%;background:radial-gradient(ellipse,rgba(60,62,60,.28),rgba(60,62,60,0) 70%)"></div><div class="a" style="left:176.6px;top:36.4px;width:16.4px;height:17px;background:#e8d838"></div><div class="a" style="left:169.5px;top:200px;width:19px;height:12px;background:#e8d028"></div></div>
<div class="a" style="left:333.8px;top:1469px;width:178.4px;height:250.6px;overflow:hidden;border-radius:3px;background:linear-gradient(165deg,#04944f 0%,#03914c 30%,#049c55 60%,#06a663 100%)"><div class="a" style="left:-20px;top:130px;width:120px;height:140px;background:radial-gradient(ellipse at 40% 60%,rgba(20,190,120,.35),rgba(0,0,0,0) 70%)"></div><div class="a" style="left:110px;top:80px;width:80px;height:110px;background:radial-gradient(ellipse,rgba(0,110,55,.35),rgba(0,0,0,0) 70%)"></div><svg class="a" style="left:0;top:0" width="179" height="252"><path d="M69,172 C66,185 62,200 63.7,219" stroke="#a4a6a2" stroke-width="1.6" fill="none"/><path d="M70,223 C55,214 30,206 20,210 C12,214 16,222 30,225 C45,228 60,226 70,223" stroke="#b4b6b0" stroke-width="3" fill="none"/><path d="M70,223 C80,218 100,212 112,216 C118,220 110,232 100,236 C88,240 78,232 70,223" stroke="#b4b6b0" stroke-width="3" fill="none"/><path d="M70,223 C60,230 40,232 26,227" stroke="#a8aaa4" stroke-width="2.6" fill="none"/><path d="M70,223 C85,228 105,238 112,240" stroke="#a8aaa4" stroke-width="2.6" fill="none"/><path d="M70,223 L115,218 L143,214" stroke="#b4b2ac" stroke-width="3.2" fill="none"/><rect x="67.5" y="217" width="4.5" height="11" fill="#111" transform="rotate(-15 70 223)"/><rect x="142.4" y="204" width="14" height="16" rx="3" fill="#9e988c"/><rect x="144" y="205" width="5" height="14" fill="#c8c2b6"/><path d="M167,4 C170,4 171,7 171,12 L170.6,50 L165.5,50 L164,12 C164,7 164.5,4 167,4 Z" fill="#161616"/><rect x="152.8" y="47" width="18" height="6.5" rx="1" fill="#c09a60"/><rect x="128" y="36" width="18" height="30" rx="4" fill="#f2501c"/><rect x="144.6" y="39" width="8.5" height="25" rx="3" fill="#eee6cc"/><rect x="143.5" y="40" width="2.2" height="23" fill="#1a1a1a"/><rect x="10" y="33" width="20" height="26" rx="4" fill="#f2501c"/><rect x="4.4" y="37" width="8.5" height="21" rx="3" fill="#dcd8cc"/><rect x="4.4" y="50" width="8.5" height="8" rx="2" fill="#8a8a86"/><rect x="12" y="36" width="2.5" height="22" fill="#1a1a1a"/><path d="M10.3,118 C10,108 16,105 26,105 L118,105 C138,105 145,110 145,118 C145,127 138,130 125,130 L28,128 C16,128 10.5,125 10.3,118 Z" fill="#f6541e"/><circle cx="20" cy="115.5" r="3.8" fill="#1a0c08"/><circle cx="133.5" cy="118.5" r="3.8" fill="#1a0c08"/><rect x="52" y="128" width="44" height="23" fill="#f4521c"/><ellipse cx="72.5" cy="78" rx="61" ry="60" fill="#f7561f"/><path d="M28,30 C45,18 100,16 118,30 L110,38 C95,28 50,28 36,38 Z" fill="#fa6a34"/><path d="M48,25 L64,22 L62,34 L50,35 Z" fill="#ff7b48"/><path d="M85,22 L98,26 L94,36 L84,33 Z" fill="#ff7b48"/><path d="M17,62 L28,52 L34,62 L22,72 Z" fill="#ff8050"/><path d="M118,54 L128,62 L122,72 L112,64 Z" fill="#ea4a16"/><path d="M16,86 L27,80 L34,96 L22,102 Z" fill="#ff7b48"/><path d="M120,86 L130,92 L124,108 L114,102 Z" fill="#ea4a16"/><path d="M24,104 L36,98 L40,116 L30,120 Z" fill="#ff8050"/><path d="M52,128 C60,122 84,122 92,128 L90,136 C80,132 64,132 54,136 Z" fill="#ff7b48"/><path d="M104,112 L114,108 L116,124 L106,126 Z" fill="#e84812"/><text x="60" y="70" font-family="Liberation Sans" font-size="19" fill="#ff7448" stroke="#d83c10" stroke-width=".6" textLength="24">Ex</text><line x1="48" y1="94.5" x2="94" y2="94.5" stroke="#ffa080" stroke-width="7" stroke-dasharray="5.5 1.2" opacity=".7"/><line x1="48" y1="104.5" x2="94" y2="104.5" stroke="#ffa080" stroke-width="7" stroke-dasharray="5.5 1.2" opacity=".7"/><rect x="63.7" y="150" width="21" height="11" fill="#b8bab8"/><rect x="63.7" y="152" width="21" height="1.3" fill="#6a6c6a"/><rect x="63.7" y="155.5" width="21" height="1.3" fill="#6a6c6a"/><rect x="63.7" y="159" width="21" height="1.3" fill="#6a6c6a"/><rect x="61.5" y="160.5" width="25" height="3" fill="#151515"/><rect x="61.5" y="163.5" width="25.2" height="8.5" rx="2" fill="#c4c6c2"/></svg></div>
<div class="a" style="left:1102.4px;top:1466.4px;width:178.5px;height:251.6px;overflow:hidden;border-radius:3px;background:linear-gradient(165deg,#04944f 0%,#03914c 30%,#049c55 60%,#06a663 100%)"><div class="a" style="left:-20px;top:130px;width:120px;height:140px;background:radial-gradient(ellipse at 40% 60%,rgba(20,190,120,.35),rgba(0,0,0,0) 70%)"></div><div class="a" style="left:110px;top:80px;width:80px;height:110px;background:radial-gradient(ellipse,rgba(0,110,55,.35),rgba(0,0,0,0) 70%)"></div><svg class="a" style="left:0;top:0" width="179" height="252"><path d="M69,172 C66,185 62,200 63.7,219" stroke="#a4a6a2" stroke-width="1.6" fill="none"/><path d="M70,223 C55,214 30,206 20,210 C12,214 16,222 30,225 C45,228 60,226 70,223" stroke="#b4b6b0" stroke-width="3" fill="none"/><path d="M70,223 C80,218 100,212 112,216 C118,220 110,232 100,236 C88,240 78,232 70,223" stroke="#b4b6b0" stroke-width="3" fill="none"/><path d="M70,223 C60,230 40,232 26,227" stroke="#a8aaa4" stroke-width="2.6" fill="none"/><path d="M70,223 C85,228 105,238 112,240" stroke="#a8aaa4" stroke-width="2.6" fill="none"/><path d="M70,223 L115,218 L143,214" stroke="#b4b2ac" stroke-width="3.2" fill="none"/><rect x="67.5" y="217" width="4.5" height="11" fill="#111" transform="rotate(-15 70 223)"/><rect x="142.4" y="204" width="14" height="16" rx="3" fill="#9e988c"/><rect x="144" y="205" width="5" height="14" fill="#c8c2b6"/><path d="M167,4 C170,4 171,7 171,12 L170.6,50 L165.5,50 L164,12 C164,7 164.5,4 167,4 Z" fill="#161616"/><rect x="152.8" y="47" width="18" height="6.5" rx="1" fill="#c09a60"/><rect x="128" y="36" width="18" height="30" rx="4" fill="#f2501c"/><rect x="144.6" y="39" width="8.5" height="25" rx="3" fill="#eee6cc"/><rect x="143.5" y="40" width="2.2" height="23" fill="#1a1a1a"/><rect x="10" y="33" width="20" height="26" rx="4" fill="#f2501c"/><rect x="4.4" y="37" width="8.5" height="21" rx="3" fill="#dcd8cc"/><rect x="4.4" y="50" width="8.5" height="8" rx="2" fill="#8a8a86"/><rect x="12" y="36" width="2.5" height="22" fill="#1a1a1a"/><path d="M10.3,118 C10,108 16,105 26,105 L118,105 C138,105 145,110 145,118 C145,127 138,130 125,130 L28,128 C16,128 10.5,125 10.3,118 Z" fill="#f6541e"/><circle cx="20" cy="115.5" r="3.8" fill="#1a0c08"/><circle cx="133.5" cy="118.5" r="3.8" fill="#1a0c08"/><rect x="52" y="128" width="44" height="23" fill="#f4521c"/><ellipse cx="72.5" cy="78" rx="61" ry="60" fill="#f7561f"/><path d="M28,30 C45,18 100,16 118,30 L110,38 C95,28 50,28 36,38 Z" fill="#fa6a34"/><path d="M48,25 L64,22 L62,34 L50,35 Z" fill="#ff7b48"/><path d="M85,22 L98,26 L94,36 L84,33 Z" fill="#ff7b48"/><path d="M17,62 L28,52 L34,62 L22,72 Z" fill="#ff8050"/><path d="M118,54 L128,62 L122,72 L112,64 Z" fill="#ea4a16"/><path d="M16,86 L27,80 L34,96 L22,102 Z" fill="#ff7b48"/><path d="M120,86 L130,92 L124,108 L114,102 Z" fill="#ea4a16"/><path d="M24,104 L36,98 L40,116 L30,120 Z" fill="#ff8050"/><path d="M52,128 C60,122 84,122 92,128 L90,136 C80,132 64,132 54,136 Z" fill="#ff7b48"/><path d="M104,112 L114,108 L116,124 L106,126 Z" fill="#e84812"/><text x="60" y="70" font-family="Liberation Sans" font-size="19" fill="#ff7448" stroke="#d83c10" stroke-width=".6" textLength="24">Ex</text><line x1="48" y1="94.5" x2="94" y2="94.5" stroke="#ffa080" stroke-width="7" stroke-dasharray="5.5 1.2" opacity=".7"/><line x1="48" y1="104.5" x2="94" y2="104.5" stroke="#ffa080" stroke-width="7" stroke-dasharray="5.5 1.2" opacity=".7"/><rect x="63.7" y="150" width="21" height="11" fill="#b8bab8"/><rect x="63.7" y="152" width="21" height="1.3" fill="#6a6c6a"/><rect x="63.7" y="155.5" width="21" height="1.3" fill="#6a6c6a"/><rect x="63.7" y="159" width="21" height="1.3" fill="#6a6c6a"/><rect x="61.5" y="160.5" width="25" height="3" fill="#151515"/><rect x="61.5" y="163.5" width="25.2" height="8.5" rx="2" fill="#c4c6c2"/></svg></div>
<svg width="1612" height="1752" viewBox="0 0 1612 1752" style="position:absolute;left:0;top:0"><circle cx="507.8" cy="455.2" r="198.3" fill="none" stroke="#ff7f27" stroke-width="5"/><ellipse cx="1022.25" cy="285.7" rx="247.8" ry="160.4" fill="none" stroke="#ff7f27" stroke-width="5"/><ellipse cx="1028.1" cy="634.0" rx="256.6" ry="171.9" fill="none" stroke="#ff7f27" stroke-width="5"/><rect x="374.5" y="321.5" width="262" height="180.5" rx="12" ry="12" fill="none" stroke="#ed1c24" stroke-width="3"/><path d="M642,392.7 L757.3,277.6 M749,277.6 L757.6,277.6 L757.6,285.7" fill="none" stroke="#ed1c24" stroke-width="1.15"/><path d="M643,424 L757.7,538 M757.7,530 L757.7,538 L750,538" fill="none" stroke="#ed1c24" stroke-width="1.15"/><path d="M1345,609 L1546,609 C1566,611 1579,625 1579,642 L1579,708 C1579,726 1566,738 1546,740 L1536,740 L1504,758 L1473,740 L1345,740 C1325,738 1311.5,726 1311.5,708 L1311.5,642 C1311.5,625 1325,611 1345,609 Z" fill="#fff" stroke="#ed1c24" stroke-width="1.2"/><rect x="65.7" y="851.3" width="518" height="252" rx="13.5" fill="none" stroke="#ff7f27" stroke-width="5"/><rect x="1042.6" y="849.6" width="517.8" height="249" rx="13" fill="none" stroke="#ff7f27" stroke-width="5"/><rect x="328.4" y="1464.4" width="188.1" height="262.1" rx="12" fill="none" stroke="#ff7f27" stroke-width="4.8"/><rect x="1099.5" y="1460.5" width="186" height="264" rx="12" fill="none" stroke="#ff7f27" stroke-width="4.8"/><path d="M311.5,1106 L311.5,1159.5 L810,1159.5" fill="none" stroke="#ff7f27" stroke-width="5"/><path d="M810,1158.5 L1306.5,1158.5 L1306.5,1101" fill="none" stroke="#ff7f27" stroke-width="5"/><path d="M421.4,1364 L421.4,1336.3 L1190.6,1336.3 L1190.6,1359" fill="none" stroke="#ff7f27" stroke-width="4.8" stroke-linecap="round" stroke-linejoin="round"/><rect x="709" y="969" width="29" height="8" fill="#000"/><rect x="754" y="969" width="34" height="8" fill="#000"/><rect x="808" y="969" width="28" height="8" fill="#000"/><rect x="854" y="969" width="30" height="8" fill="#000"/><rect x="906" y="969" width="26" height="8" fill="#000"/><rect x="678" y="1580" width="29" height="7.7" fill="#000"/><rect x="723" y="1580" width="34" height="7.7" fill="#000"/><rect x="777" y="1580" width="28" height="7.7" fill="#000"/><rect x="823" y="1580" width="30" height="7.7" fill="#000"/><rect x="875" y="1580" width="26" height="7.7" fill="#000"/><g transform="translate(286,760) scale(1.0)">
<path d="M0,11.3 Q41,-11.3 82,11.3 L76.5,17 Q41,-3.2 5.3,17 Z" fill="#99c9fb"/>
<path d="M11.3,23.2 Q41,7.2 70.8,22.8 L65.2,28 Q41,13.3 16.6,28.6 Z" fill="#66aef8"/>
<path d="M23,34.7 Q41,25.3 58.7,34.7 L54.8,38.6 Q41,33.2 26,39 Z" fill="#0a7cf7"/>
<circle cx="40.8" cy="46.5" r="5.5" fill="#3d7aa6"/>
<path d="M40.8,54 C37,54 35.5,57 34.5,60 L28.6,80.8 L53,80.8 L47,60 C46,57 44.5,54 40.8,54 Z" fill="#3d7aa6"/>
</g><g transform="translate(1272,762.5) scale(1.0)">
<path d="M0,11.3 Q41,-11.3 82,11.3 L76.5,17 Q41,-3.2 5.3,17 Z" fill="#99c9fb"/>
<path d="M11.3,23.2 Q41,7.2 70.8,22.8 L65.2,28 Q41,13.3 16.6,28.6 Z" fill="#66aef8"/>
<path d="M23,34.7 Q41,25.3 58.7,34.7 L54.8,38.6 Q41,33.2 26,39 Z" fill="#0a7cf7"/>
<circle cx="40.8" cy="46.5" r="5.5" fill="#3d7aa6"/>
<path d="M40.8,54 C37,54 35.5,57 34.5,60 L28.6,80.8 L53,80.8 L47,60 C46,57 44.5,54 40.8,54 Z" fill="#3d7aa6"/>
</g><g transform="translate(383,1370) scale(1.0)">
<path d="M0,11.3 Q41,-11.3 82,11.3 L76.5,17 Q41,-3.2 5.3,17 Z" fill="#99c9fb"/>
<path d="M11.3,23.2 Q41,7.2 70.8,22.8 L65.2,28 Q41,13.3 16.6,28.6 Z" fill="#66aef8"/>
<path d="M23,34.7 Q41,25.3 58.7,34.7 L54.8,38.6 Q41,33.2 26,39 Z" fill="#0a7cf7"/>
<circle cx="40.8" cy="46.5" r="5.5" fill="#3d7aa6"/>
<path d="M40.8,54 C37,54 35.5,57 34.5,60 L28.6,80.8 L53,80.8 L47,60 C46,57 44.5,54 40.8,54 Z" fill="#3d7aa6"/>
</g><g transform="translate(1151.8,1367) scale(1.0)">
<path d="M0,11.3 Q41,-11.3 82,11.3 L76.5,17 Q41,-3.2 5.3,17 Z" fill="#99c9fb"/>
<path d="M11.3,23.2 Q41,7.2 70.8,22.8 L65.2,28 Q41,13.3 16.6,28.6 Z" fill="#66aef8"/>
<path d="M23,34.7 Q41,25.3 58.7,34.7 L54.8,38.6 Q41,33.2 26,39 Z" fill="#0a7cf7"/>
<circle cx="40.8" cy="46.5" r="5.5" fill="#3d7aa6"/>
<path d="M40.8,54 C37,54 35.5,57 34.5,60 L28.6,80.8 L53,80.8 L47,60 C46,57 44.5,54 40.8,54 Z" fill="#3d7aa6"/>
</g><g transform="translate(832,1230.7) scale(0.5)">
<path d="M0,11.3 Q41,-11.3 82,11.3 L76.5,17 Q41,-3.2 5.3,17 Z" fill="#99c9fb"/>
<path d="M11.3,23.2 Q41,7.2 70.8,22.8 L65.2,28 Q41,13.3 16.6,28.6 Z" fill="#66aef8"/>
<path d="M23,34.7 Q41,25.3 58.7,34.7 L54.8,38.6 Q41,33.2 26,39 Z" fill="#0a7cf7"/>
<circle cx="40.8" cy="46.5" r="5.5" fill="#3d7aa6"/>
<path d="M40.8,54 C37,54 35.5,57 34.5,60 L28.6,80.8 L53,80.8 L47,60 C46,57 44.5,54 40.8,54 Z" fill="#3d7aa6"/>
</g></svg>
<div class="a" style="left:813.5px;top:1183.5px;font-size:35px;font-weight:bold;line-height:1;white-space:nowrap;-webkit-text-stroke:1px #000">接收</div>
<div class="a" style="left:814.5px;top:1286px;font-size:35px;font-weight:bold;line-height:1;white-space:nowrap;-webkit-text-stroke:1px #000">发射</div>
<div class="a" style="left:1335px;top:643px;font-size:24px;font-weight:bold;line-height:1;white-space:nowrap;color:#ed1c24">基于<span style="font-family:'Liberation Mono',monospace;font-size:22.5px">ZiBee</span>无线技术</div>
<div class="a" style="left:1335px;top:675px;font-size:24.5px;font-weight:bold;line-height:1;white-space:nowrap;color:#ed1c24">无线接收和发送数据</div>
</body></html>
